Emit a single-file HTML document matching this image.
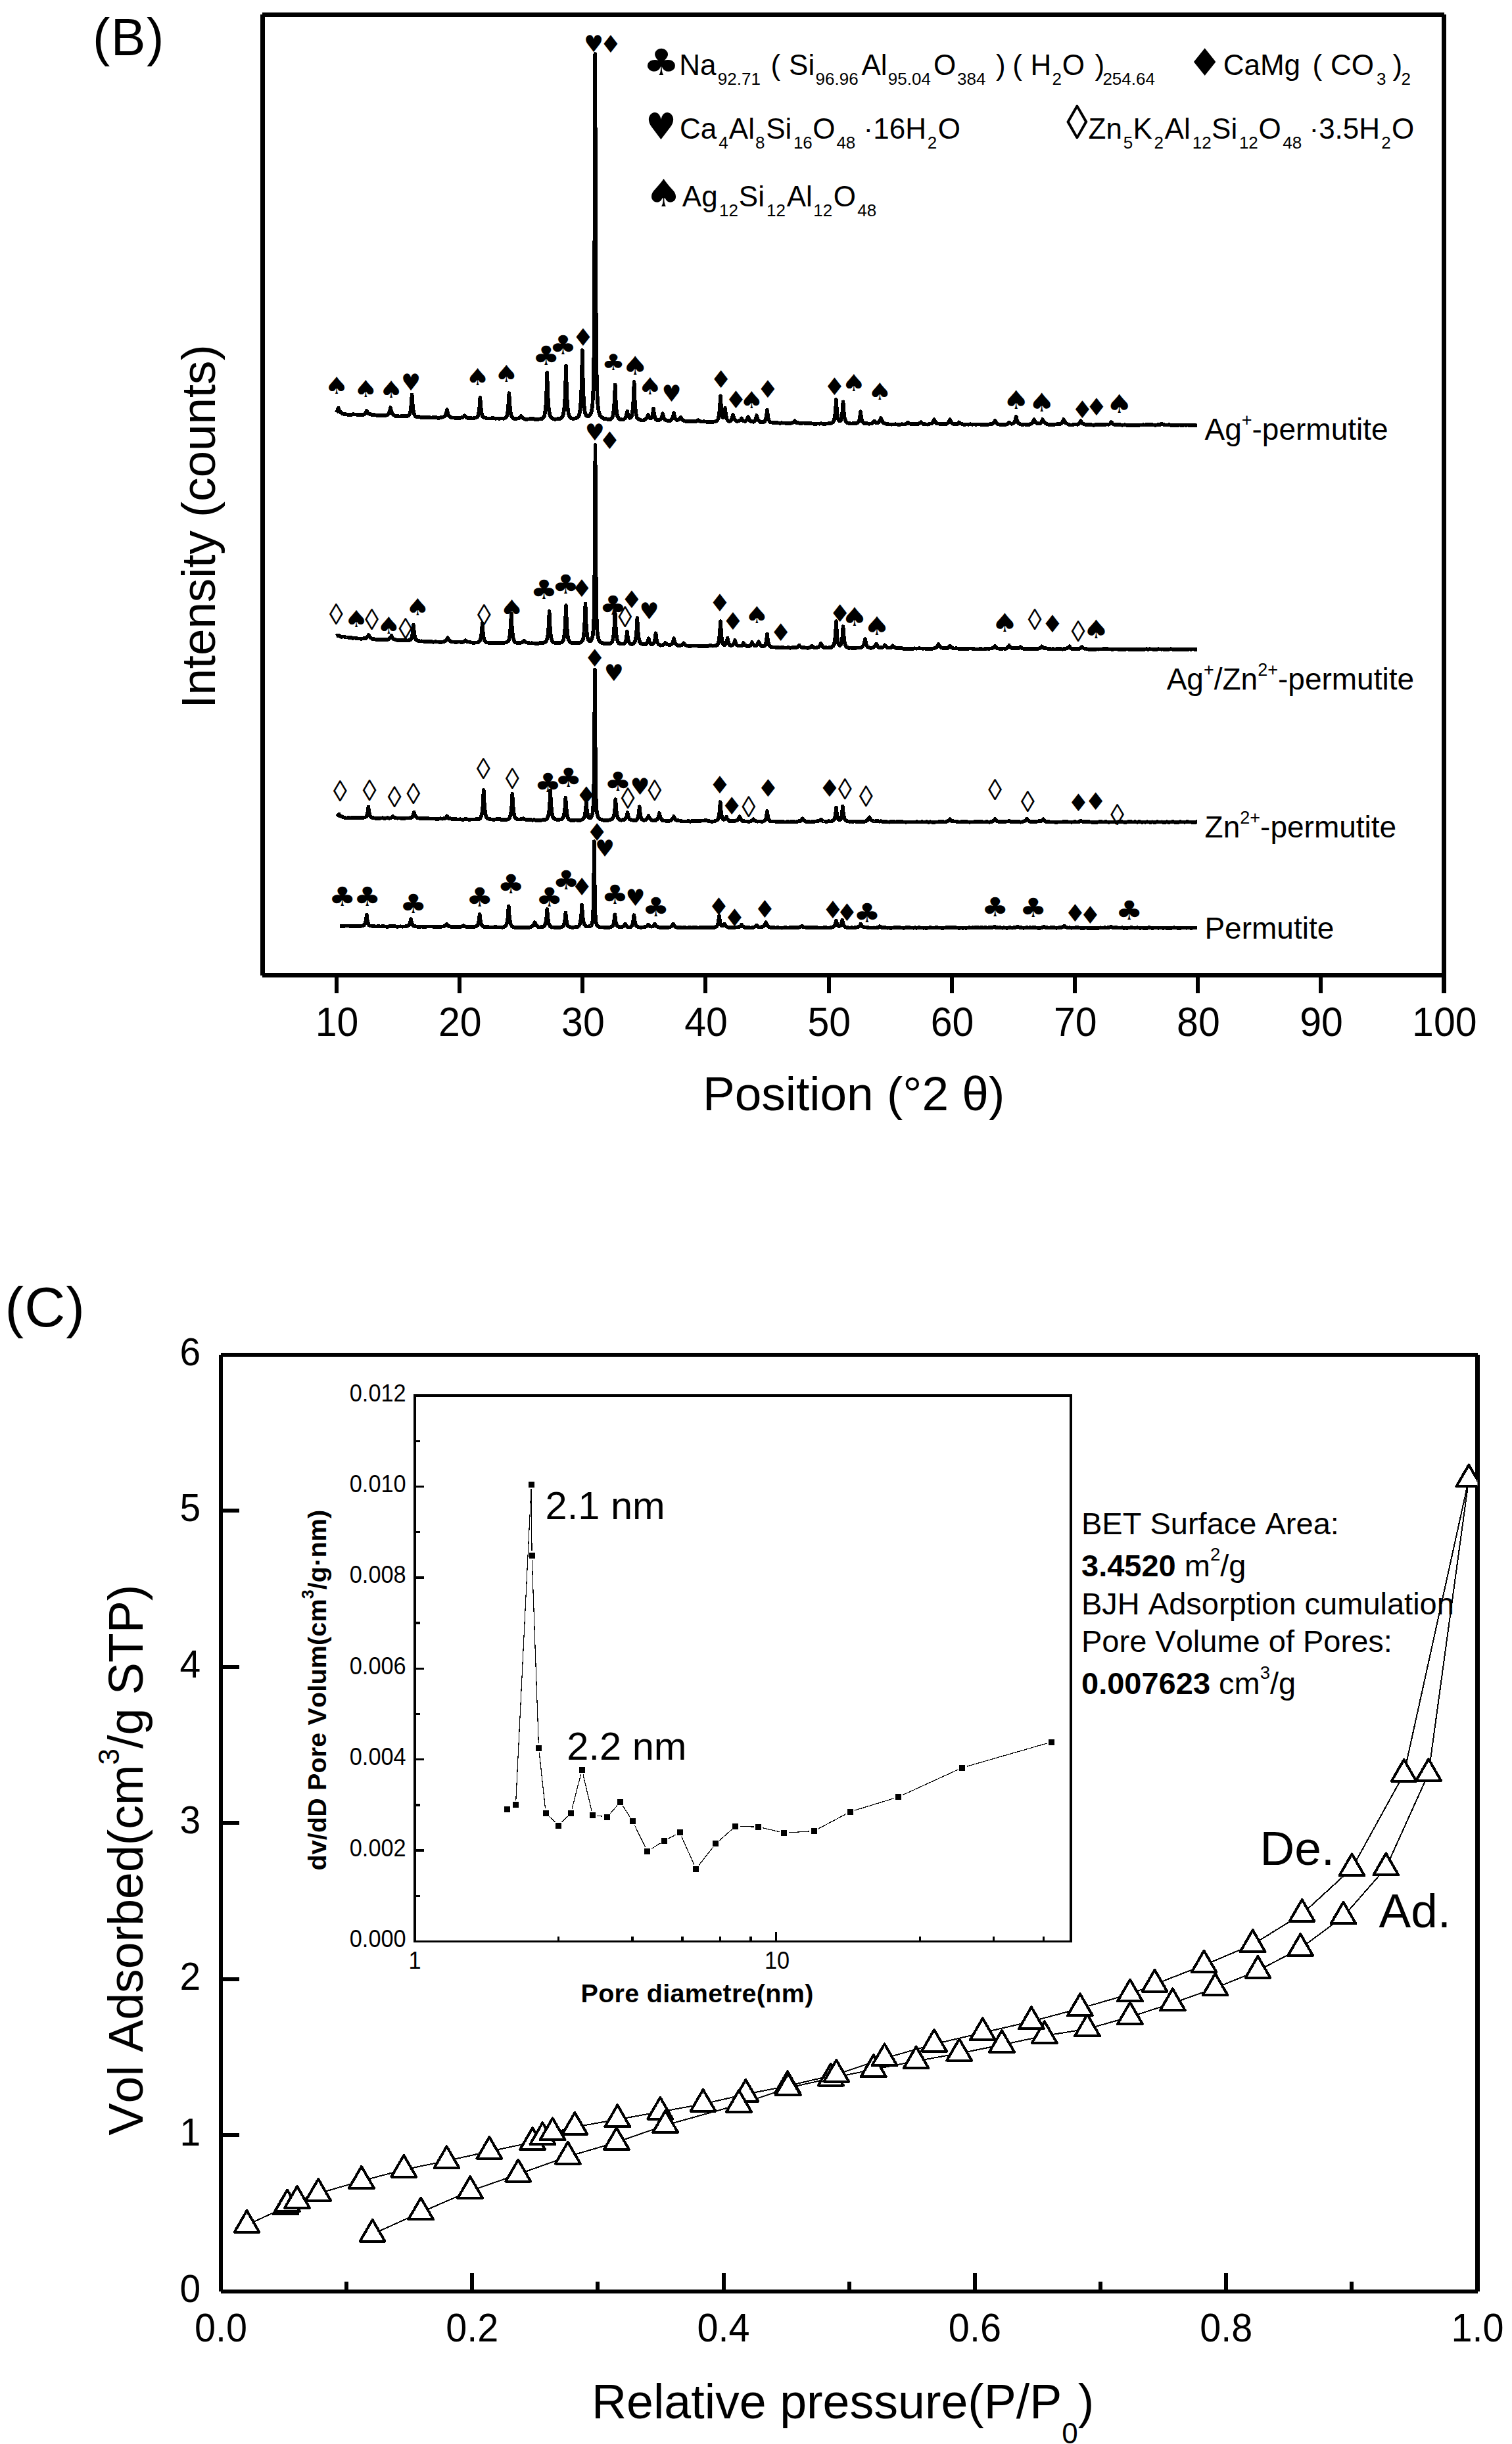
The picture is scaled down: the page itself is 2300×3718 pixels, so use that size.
<!DOCTYPE html>
<html lang="en"><head><meta charset="utf-8"><title>Figure B-C</title>
<style>html,body{margin:0;padding:0;background:#fff}svg{display:block}text{font-kerning:none;font-variant-ligatures:none}.s{font-family:"DejaVu Sans",sans-serif}</style></head>
<body>
<svg width="2300" height="3718" viewBox="0 0 2300 3718" font-family='"Liberation Sans", sans-serif' fill="#000" shape-rendering="crispEdges">
<rect width="2300" height="3718" fill="#fff"/>
<g id="panelB">
<text x="141" y="83.7" font-size="79" letter-spacing="1.5">(B)</text>
<rect x="396" y="22" width="7" height="1461.8"/><rect x="399" y="19" width="1798" height="6.9"/><rect x="2193" y="22" width="7" height="1489"/><rect x="399" y="1479.9" width="1798" height="7.1"/>
<rect x="508.7" y="1483" width="6" height="28" />
<text transform="translate(512.5 1576.3) scale(1 1.06)" font-size="59" text-anchor="middle">10</text>
<rect x="695.9" y="1483" width="6" height="28" />
<text transform="translate(699.7 1576.3) scale(1 1.06)" font-size="59" text-anchor="middle">20</text>
<rect x="883.1" y="1483" width="6" height="28" />
<text transform="translate(886.9 1576.3) scale(1 1.06)" font-size="59" text-anchor="middle">30</text>
<rect x="1070.3" y="1483" width="6" height="28" />
<text transform="translate(1074.1 1576.3) scale(1 1.06)" font-size="59" text-anchor="middle">40</text>
<rect x="1257.5" y="1483" width="6" height="28" />
<text transform="translate(1261.3 1576.3) scale(1 1.06)" font-size="59" text-anchor="middle">50</text>
<rect x="1444.7" y="1483" width="6" height="28" />
<text transform="translate(1448.5 1576.3) scale(1 1.06)" font-size="59" text-anchor="middle">60</text>
<rect x="1631.9" y="1483" width="6" height="28" />
<text transform="translate(1635.7 1576.3) scale(1 1.06)" font-size="59" text-anchor="middle">70</text>
<rect x="1819.1" y="1483" width="6" height="28" />
<text transform="translate(1822.9 1576.3) scale(1 1.06)" font-size="59" text-anchor="middle">80</text>
<rect x="2006.3" y="1483" width="6" height="28" />
<text transform="translate(2010.1 1576.3) scale(1 1.06)" font-size="59" text-anchor="middle">90</text>
<text transform="translate(2197.3 1576.3) scale(1 1.06)" font-size="59" text-anchor="middle">100</text>
<text x="1069" y="1689.3" font-size="73">Position (°2 θ)</text>
<text transform="translate(327.4 1077.8) rotate(-90)" font-size="72.7">Intensity (counts)</text>
<polyline points="511.5,627.2 513.2,624.6 514.8,620.7 516.2,624.7 517.8,626.9 519.5,628.4 520.8,629.2 524.0,630.3 526.5,630.3 529.5,630.9 534.0,631.0 536.5,630.3 541.5,630.4 544.0,631.2 546.5,631.2 549.0,630.6 551.5,631.3 553.5,630.7 555.0,629.7 556.5,627.8 557.8,625.1 559.0,627.5 560.5,629.0 562.2,629.9 564.0,630.3 566.5,631.2 569.0,631.1 574.0,632.0 576.5,631.8 579.0,632.1 581.5,632.0 584.0,632.3 588.8,631.5 589.8,631.0 590.8,630.0 591.8,628.4 592.5,626.5 593.2,623.8 594.0,619.9 595.0,624.8 595.8,627.2 596.5,628.9 598.0,630.8 601.0,632.6 601.5,632.9 604.0,633.3 609.0,633.4 611.5,633.2 616.5,633.2 619.0,632.8 620.5,632.7 621.5,632.3 622.8,630.6 623.8,627.8 624.5,624.5 625.8,614.0 626.6,600.4 627.8,617.2 628.5,623.2 629.2,627.1 630.2,630.4 631.2,632.3 632.2,633.3 634.0,634.1 636.5,634.0 639.0,634.5 641.5,635.2 644.0,634.8 646.5,635.3 651.5,634.7 654.0,635.3 656.5,635.5 659.0,635.1 661.5,635.0 664.0,635.2 666.5,635.9 669.0,635.6 671.5,634.8 674.0,634.5 675.2,633.9 676.2,633.2 677.8,631.1 679.0,627.6 680.0,623.2 681.0,628.3 681.5,630.0 682.2,631.7 683.5,633.2 685.0,634.4 686.5,635.2 689.0,635.6 691.5,635.6 694.0,636.2 696.5,635.6 699.0,636.0 701.5,635.3 704.0,634.8 705.5,633.7 706.6,632.3 708.0,633.8 711.5,636.1 714.0,636.4 716.5,636.1 719.0,636.7 721.5,635.8 724.5,635.3 725.8,634.6 726.8,633.3 727.5,631.3 728.2,628.2 729.5,618.4 730.4,604.9 731.2,617.4 732.2,626.2 733.5,631.9 734.0,633.3 734.8,634.2 735.8,634.8 741.5,636.6 744.0,636.4 751.5,636.3 754.0,636.8 756.5,636.4 759.0,636.8 763.5,636.5 766.5,636.8 768.5,635.8 770.0,634.3 771.0,632.3 771.8,629.6 772.5,625.3 773.2,618.1 774.4,598.2 775.2,613.9 776.5,626.1 777.2,630.0 778.0,632.4 779.2,634.6 780.5,636.0 781.5,636.7 784.0,637.1 788.0,636.4 789.8,636.0 790.8,635.5 791.8,634.6 792.6,633.2 793.5,634.7 794.2,635.6 795.2,636.1 796.5,636.4 799.0,637.8 801.5,637.8 809.0,636.9 811.5,637.0 814.0,638.1 816.5,637.6 819.0,638.0 821.5,637.2 824.0,637.2 825.2,636.5 826.2,635.7 827.0,634.6 827.8,633.0 828.8,629.3 829.8,622.6 830.5,614.0 831.2,600.2 832.3,566.9 833.0,591.6 834.0,612.7 835.0,623.7 836.2,630.3 837.0,632.5 838.0,634.3 839.5,635.8 841.2,636.9 843.2,637.6 844.5,637.8 849.0,637.0 851.5,637.2 853.0,636.2 854.5,634.9 855.2,634.0 856.0,632.7 857.2,628.7 858.2,622.2 859.0,613.6 859.8,599.8 861.0,556.8 861.8,586.5 862.5,605.1 863.5,619.7 864.8,628.7 865.5,631.6 866.2,633.4 867.2,634.8 868.8,636.1 871.5,637.1 877.0,636.0 878.2,635.5 879.2,634.7 880.2,633.1 881.0,631.3 882.0,626.9 883.0,618.5 883.8,607.6 884.5,590.2 885.2,562.9 885.8,533.1 886.5,569.3 887.2,594.2 888.0,609.9 889.0,621.9 889.5,625.4 890.2,628.8 891.0,630.9 892.0,632.4 893.2,633.2 894.8,633.3 895.5,633.0 897.0,632.0 898.0,630.9 899.0,628.9 900.0,624.9 900.8,620.1 901.5,612.4 902.5,592.1 903.2,557.5 903.8,510.5 904.2,418.8 905.3,82.2 906.5,452.4 907.0,527.2 907.8,578.9 908.8,607.1 909.5,617.1 910.5,624.5 911.8,629.4 912.5,631.4 913.5,633.2 914.8,634.5 916.5,635.5 919.0,637.3 921.5,637.1 924.0,637.9 926.0,638.2 928.5,637.9 929.5,637.4 930.5,636.4 931.2,635.2 932.0,633.3 932.8,630.2 933.2,627.1 934.2,617.0 935.0,604.1 935.7,585.4 936.5,606.3 937.5,621.4 938.5,629.6 939.2,633.0 940.0,634.9 941.2,636.5 942.5,637.5 943.8,638.1 946.5,638.5 949.0,637.9 950.8,636.3 952.2,633.6 953.2,630.5 954.2,625.8 955.2,631.0 956.5,634.3 957.2,635.3 958.0,635.8 958.8,635.7 959.8,635.0 960.8,633.1 961.5,630.2 962.2,625.3 962.8,620.4 963.8,604.5 964.6,581.0 965.2,600.2 966.0,614.7 966.8,623.8 967.8,630.9 968.8,634.6 969.2,635.6 970.0,636.6 970.8,637.2 973.2,638.6 976.5,639.5 978.5,639.3 980.0,638.9 981.2,638.3 982.2,637.6 983.2,636.5 984.5,634.5 985.9,631.0 987.0,633.9 988.2,635.7 989.5,636.4 990.2,636.3 990.8,635.9 991.8,634.3 992.8,630.8 993.5,626.0 994.0,621.3 994.8,628.0 995.8,633.2 997.2,637.1 998.0,638.2 999.0,639.1 1000.2,639.1 1001.5,638.7 1003.2,638.7 1004.0,638.5 1004.8,637.9 1005.8,636.4 1006.5,634.8 1007.2,632.5 1008.0,629.1 1009.5,634.8 1010.5,637.1 1011.5,638.5 1012.8,639.3 1014.8,639.9 1017.2,640.2 1019.0,640.2 1021.0,638.8 1022.0,637.6 1022.8,636.3 1024.0,632.8 1025.0,628.3 1026.0,633.0 1027.0,636.0 1028.2,638.1 1029.0,638.9 1029.5,639.0 1031.0,638.9 1032.8,638.1 1034.5,636.3 1035.5,634.6 1036.5,637.0 1038.2,639.0 1039.8,639.8 1044.0,641.1 1046.5,640.8 1049.0,641.3 1051.5,641.0 1055.8,641.4 1057.2,641.3 1059.0,641.0 1060.0,640.6 1061.2,639.8 1062.0,639.0 1062.8,639.6 1065.2,640.9 1066.5,641.3 1067.2,641.4 1071.5,641.3 1076.5,642.0 1081.5,641.9 1084.0,642.2 1088.5,641.0 1090.2,640.3 1091.5,639.2 1092.5,637.1 1093.5,633.2 1094.2,628.2 1095.0,620.3 1096.0,602.3 1097.2,622.9 1098.0,629.3 1099.0,633.8 1099.5,634.8 1099.8,635.1 1100.2,635.1 1100.8,634.6 1101.2,633.3 1102.2,628.0 1103.0,620.8 1104.0,630.3 1105.2,636.3 1106.0,638.1 1107.0,639.6 1108.0,640.4 1109.2,640.9 1110.2,640.8 1111.2,640.3 1112.5,638.8 1113.8,636.0 1115.0,630.9 1116.0,634.9 1117.2,637.8 1118.5,639.3 1120.0,640.5 1121.5,641.3 1124.0,640.1 1125.2,639.8 1126.2,639.2 1127.2,637.9 1128.0,636.4 1129.0,638.3 1130.5,639.9 1132.5,640.8 1134.0,640.8 1135.2,639.6 1136.2,638.2 1137.2,636.2 1138.0,634.3 1139.5,638.0 1140.5,639.5 1141.5,640.6 1142.8,641.1 1144.0,641.2 1145.5,641.7 1146.5,641.7 1148.0,640.2 1149.2,638.0 1150.2,635.2 1151.0,631.9 1151.8,635.1 1152.5,637.3 1153.5,639.3 1154.8,640.8 1155.8,641.6 1156.8,642.1 1160.0,642.2 1161.5,642.0 1162.5,641.5 1163.5,640.6 1164.2,639.4 1165.0,637.3 1166.0,632.5 1167.0,623.6 1168.2,634.2 1169.0,637.7 1169.8,639.7 1170.8,641.3 1171.8,642.1 1176.5,643.2 1181.5,643.0 1186.5,643.8 1189.0,643.3 1194.0,643.6 1196.5,643.9 1203.2,643.7 1204.8,643.3 1207.2,642.0 1208.2,641.2 1209.0,640.3 1210.2,641.9 1211.5,643.0 1212.8,643.2 1214.0,643.1 1216.5,644.2 1219.0,644.0 1221.5,643.4 1229.0,644.3 1231.5,643.8 1236.5,644.6 1241.5,645.0 1244.0,644.5 1246.5,644.7 1249.0,644.2 1251.5,644.7 1254.0,644.8 1258.5,644.6 1261.5,643.7 1264.0,643.9 1266.0,643.1 1267.2,642.1 1268.5,639.9 1269.2,637.5 1270.0,633.5 1270.8,627.2 1272.0,608.0 1272.8,621.2 1273.5,629.5 1274.5,635.8 1275.0,637.6 1275.8,639.3 1277.0,640.5 1277.8,640.6 1278.2,640.4 1278.8,640.0 1279.2,639.1 1280.0,636.7 1280.8,632.8 1281.5,626.3 1282.5,611.3 1283.8,628.6 1284.5,634.2 1285.5,638.5 1286.8,641.1 1287.5,642.1 1288.5,642.9 1290.2,643.7 1294.0,644.5 1296.5,644.3 1299.0,643.9 1301.5,644.6 1304.8,643.0 1305.8,642.2 1306.5,641.0 1307.5,637.5 1308.2,633.1 1309.0,626.2 1310.2,635.9 1311.0,639.0 1312.2,641.9 1313.0,642.9 1314.0,643.8 1319.0,644.2 1321.5,644.7 1324.0,644.6 1326.5,644.0 1328.2,642.7 1330.0,640.5 1331.2,642.2 1332.2,642.8 1335.0,643.2 1336.5,642.8 1338.2,640.3 1340.0,636.0 1341.5,640.0 1342.5,641.7 1343.5,642.9 1345.0,643.9 1349.2,645.3 1354.0,645.4 1356.5,645.7 1361.5,645.3 1364.0,645.4 1366.5,645.9 1369.0,645.9 1371.5,645.2 1374.0,645.6 1375.8,645.5 1376.5,645.5 1378.2,644.7 1380.2,643.5 1381.0,642.8 1381.8,643.5 1382.8,644.0 1386.5,645.2 1391.5,645.3 1394.0,644.6 1396.5,645.3 1399.2,643.8 1401.0,642.1 1402.5,643.7 1404.0,644.8 1405.8,645.2 1411.5,645.7 1414.0,644.8 1416.5,644.5 1417.5,643.9 1418.5,642.9 1419.8,641.2 1421.0,638.3 1421.5,639.8 1422.5,641.8 1423.5,643.2 1424.5,643.9 1429.0,644.9 1431.5,644.7 1435.8,645.2 1437.2,645.3 1439.5,644.9 1440.8,644.2 1442.0,643.3 1443.8,641.1 1445.0,638.2 1446.0,640.6 1447.8,643.3 1449.2,644.6 1451.5,645.6 1454.0,644.8 1456.5,644.9 1457.8,643.9 1459.0,642.4 1460.0,643.4 1461.5,644.5 1466.5,646.0 1469.0,645.6 1474.0,645.7 1476.5,645.2 1479.0,645.9 1481.5,645.4 1484.0,645.8 1489.0,645.4 1491.5,645.7 1496.5,645.7 1501.5,646.1 1504.0,645.5 1508.5,645.1 1509.5,644.8 1510.8,644.0 1511.8,643.0 1512.8,641.6 1513.6,639.8 1514.5,641.7 1515.5,643.3 1516.5,644.4 1517.5,644.9 1521.5,646.1 1524.0,645.7 1526.5,646.2 1528.5,646.2 1531.5,645.6 1533.2,644.3 1535.0,642.4 1537.0,644.0 1539.0,645.0 1540.2,644.5 1542.2,643.3 1543.2,642.2 1544.0,640.8 1545.0,637.4 1545.7,633.7 1546.5,637.8 1547.5,640.8 1548.5,642.6 1550.0,644.1 1552.0,645.2 1554.0,646.0 1559.0,645.6 1561.5,646.4 1564.0,645.9 1566.5,645.8 1568.0,644.9 1570.0,643.4 1571.0,642.4 1572.0,640.7 1573.0,638.3 1574.0,640.8 1575.5,642.7 1577.8,644.0 1580.5,644.5 1581.5,644.4 1582.2,644.0 1583.8,642.7 1585.0,640.6 1586.0,638.0 1586.8,640.0 1587.8,641.7 1590.8,644.3 1594.0,645.7 1596.5,645.9 1599.0,646.3 1609.0,645.1 1611.5,645.2 1613.2,644.6 1614.8,643.7 1616.0,642.4 1617.0,640.6 1618.0,637.9 1619.8,641.7 1621.5,643.7 1622.8,644.5 1626.5,646.2 1629.0,646.5 1631.5,646.5 1634.0,645.6 1636.5,645.4 1639.0,645.8 1640.5,644.8 1642.2,643.2 1643.2,641.7 1644.0,640.2 1644.8,641.7 1645.8,643.1 1647.5,644.6 1649.0,645.4 1651.5,645.9 1654.0,645.9 1656.5,646.2 1659.0,645.8 1661.5,646.6 1663.5,646.8 1664.0,646.8 1666.5,646.0 1671.5,646.3 1674.0,645.9 1679.0,645.7 1681.5,646.0 1684.0,645.4 1686.5,645.8 1687.8,645.2 1688.8,644.5 1690.5,642.2 1692.2,644.4 1693.2,645.2 1694.2,645.7 1696.0,645.9 1699.0,645.9 1701.5,646.2 1704.0,646.2 1706.5,646.7 1709.0,646.6 1711.5,646.2 1714.0,646.9 1721.5,647.0 1724.0,646.6 1726.5,647.1 1731.5,646.7 1736.5,646.6 1739.0,646.3 1741.5,646.6 1744.0,645.9 1749.0,646.4 1751.5,646.0 1756.5,646.7 1759.0,646.7 1761.5,646.2 1764.0,646.4 1765.5,645.5 1766.6,644.5 1768.0,645.3 1771.5,646.4 1776.5,646.4 1779.0,646.3 1781.5,646.9 1784.0,646.7 1791.5,647.3 1794.0,646.4 1796.5,646.9 1799.0,647.0 1801.5,646.6 1804.0,646.9 1806.5,646.6 1811.5,647.0 1814.0,646.7 1816.5,646.9 1819.0,647.5 1821.0,647.2" fill="none" stroke="#000" stroke-width="5.7" stroke-linejoin="round" stroke-linecap="butt"/>
<polyline points="511.5,967.6 513.5,966.6 516.5,967.3 519.0,968.9 521.5,968.5 524.0,968.7 526.5,969.5 529.0,969.5 531.5,970.3 534.0,969.9 536.5,970.9 539.0,970.5 544.0,971.5 546.5,971.5 549.0,971.8 551.5,971.6 554.0,970.8 556.5,971.0 557.8,970.2 558.8,969.1 559.8,967.7 560.6,965.9 561.8,968.0 562.8,969.2 564.8,970.8 566.5,971.9 569.0,972.2 571.5,972.8 574.0,972.9 576.5,973.2 579.0,972.9 584.0,973.0 586.5,972.8 589.0,973.3 592.2,971.6 593.2,970.9 594.5,969.1 595.5,966.8 596.8,969.7 598.2,971.6 599.5,972.4 601.5,972.8 604.0,974.0 606.5,974.1 609.0,973.8 611.5,973.7 614.0,974.3 616.5,973.8 619.0,974.6 622.5,973.9 623.8,973.4 625.0,972.3 626.0,970.5 627.0,967.1 627.8,962.7 628.9,950.4 630.0,962.7 630.8,967.4 631.5,970.5 632.2,972.1 633.0,973.1 634.8,974.3 636.2,974.8 639.0,975.5 641.5,975.3 644.0,975.7 649.0,975.8 651.5,976.3 654.0,976.3 656.5,976.0 659.0,976.9 661.5,976.3 666.5,976.4 669.0,977.0 671.5,977.0 675.5,976.0 677.2,975.2 679.8,972.5 681.0,970.3 681.5,971.7 682.8,973.5 685.0,975.4 686.8,976.3 693.5,976.8 699.0,976.5 701.5,976.9 703.8,976.8 706.2,975.9 708.0,974.3 711.5,976.6 714.0,976.6 719.0,977.8 721.5,977.9 724.0,977.4 726.5,977.5 727.2,977.2 728.2,976.6 729.2,975.7 730.5,973.6 731.5,970.1 732.2,965.6 733.0,958.5 733.7,948.1 734.5,959.8 735.5,968.3 736.0,971.0 736.8,973.8 737.5,975.3 738.2,976.2 739.8,977.2 744.0,978.1 746.5,978.1 749.0,977.8 751.5,978.1 756.5,977.9 759.0,978.4 761.5,977.6 764.0,978.1 766.5,978.1 770.0,977.1 772.2,975.9 773.0,975.2 773.8,974.0 774.5,971.9 775.5,966.6 776.2,959.8 777.0,949.1 777.7,933.5 778.8,954.6 780.0,967.0 780.8,970.9 781.8,973.9 782.8,975.9 784.0,977.4 785.5,977.7 790.5,978.0 792.2,977.8 795.5,976.6 796.5,975.7 797.0,974.9 798.2,976.0 801.0,977.5 806.5,978.5 809.0,978.3 815.0,978.8 819.0,978.8 821.5,977.9 826.5,978.3 829.8,976.4 830.8,975.4 831.8,973.5 832.8,969.9 833.5,965.1 834.2,957.3 835.0,944.9 835.6,930.0 836.2,945.9 837.2,960.9 838.2,969.1 839.2,973.5 840.0,975.2 840.8,976.3 841.5,977.0 842.5,977.5 845.5,978.0 849.5,978.1 851.5,977.9 853.0,977.5 854.8,976.8 856.0,975.7 857.0,973.5 858.0,969.3 859.0,961.4 859.8,951.7 861.0,921.2 861.8,942.5 862.8,959.1 863.8,968.0 864.2,970.7 865.0,973.3 865.8,974.8 867.0,976.3 868.2,977.3 869.5,977.9 871.5,978.3 874.0,977.9 876.5,978.4 879.0,977.9 881.5,978.3 884.8,976.2 885.8,975.0 886.8,972.7 887.8,967.9 888.5,961.5 889.2,951.1 890.5,918.5 891.5,946.1 892.2,958.0 893.0,965.4 894.0,970.8 894.5,972.5 895.2,974.1 896.5,975.4 897.2,975.4 898.2,975.0 899.5,973.6 900.2,972.3 901.0,970.0 901.8,966.4 902.8,956.2 903.5,938.3 904.0,913.1 904.5,861.9 905.5,677.2 906.5,862.0 907.0,913.0 907.5,938.2 908.2,956.1 908.8,962.3 909.5,967.9 910.2,971.4 911.5,974.6 913.0,976.7 914.0,977.5 914.5,977.7 916.5,978.1 919.0,979.2 921.2,979.4 926.5,978.8 928.2,978.8 929.0,978.7 929.8,978.1 930.8,976.9 931.2,976.0 932.0,973.9 932.8,970.5 933.8,962.6 934.8,948.0 935.5,929.4 936.8,956.4 937.5,965.1 938.5,971.7 939.8,975.9 940.5,977.3 941.5,978.6 942.8,979.0 946.2,979.6 948.0,979.5 949.5,979.0 950.5,978.1 951.5,976.4 952.2,973.8 953.0,969.7 954.0,960.7 954.8,967.9 955.5,972.4 956.5,976.0 957.5,978.0 959.0,979.6 960.2,979.9 961.5,979.9 963.5,979.1 964.5,978.3 965.2,977.3 966.0,975.7 966.5,974.1 967.8,966.0 968.8,953.4 969.4,940.0 970.2,956.5 971.2,967.6 971.8,971.1 972.5,974.5 973.2,976.6 974.5,978.5 975.8,979.5 977.0,980.0 981.2,980.1 982.2,980.0 983.2,979.5 984.0,978.9 985.0,976.9 985.8,974.7 986.6,971.2 987.8,975.7 988.5,977.5 989.2,978.7 990.2,979.8 991.5,980.4 992.5,980.2 993.2,979.8 994.2,978.7 994.8,977.9 995.8,975.1 996.8,969.8 997.5,963.2 998.5,971.7 999.0,974.4 999.8,976.9 1000.8,978.8 1002.2,980.3 1004.0,981.6 1004.5,981.7 1007.5,981.5 1009.5,980.8 1011.0,979.5 1012.0,978.0 1013.5,979.4 1016.0,980.7 1018.5,981.0 1019.8,980.9 1020.8,980.6 1022.2,979.4 1023.2,977.8 1024.2,974.9 1025.0,971.3 1026.2,976.6 1027.5,979.3 1028.2,980.2 1029.8,981.3 1031.0,981.9 1032.2,982.2 1034.0,982.3 1037.8,980.9 1039.0,980.0 1040.0,978.4 1041.2,980.3 1042.5,981.4 1044.8,982.3 1046.5,982.8 1049.0,982.8 1054.0,982.5 1061.5,982.6 1064.0,983.5 1066.5,982.9 1069.0,982.7 1071.5,983.0 1074.0,982.8 1076.5,982.9 1078.5,982.3 1080.0,981.5 1082.2,982.3 1084.0,982.7 1086.8,982.5 1090.2,981.8 1091.5,980.8 1092.2,979.4 1093.0,977.1 1093.8,973.5 1095.0,962.5 1096.0,945.1 1097.0,962.7 1098.0,972.2 1098.8,976.3 1099.5,978.8 1100.5,980.5 1101.5,981.2 1102.2,981.1 1103.0,980.6 1103.8,979.7 1104.5,978.4 1105.8,974.7 1106.6,970.6 1107.8,976.3 1109.0,979.9 1110.2,981.3 1111.5,981.9 1112.5,981.9 1113.5,981.7 1114.8,981.0 1115.5,980.2 1117.0,977.4 1118.0,973.9 1119.0,977.6 1120.2,980.3 1121.5,981.8 1123.2,982.5 1125.5,982.6 1127.8,982.2 1128.8,981.8 1130.0,980.2 1131.0,978.0 1131.5,979.2 1132.5,980.7 1134.8,982.4 1136.8,983.3 1139.0,983.4 1140.5,982.6 1141.8,981.4 1143.0,979.4 1144.0,976.9 1145.2,979.6 1146.8,981.5 1148.2,982.2 1150.0,982.2 1151.2,981.7 1152.0,980.8 1153.0,979.0 1154.0,976.3 1155.5,979.9 1156.8,981.6 1157.8,982.5 1159.2,983.2 1162.2,982.7 1163.2,982.2 1164.0,981.4 1165.0,978.8 1166.0,973.8 1167.0,964.5 1168.0,973.9 1169.2,979.8 1170.0,981.6 1171.0,982.9 1172.2,983.8 1173.8,984.3 1181.5,984.8 1186.5,985.5 1189.0,985.0 1194.2,985.5 1196.5,985.5 1199.0,984.9 1201.5,985.8 1206.5,985.1 1211.2,985.0 1212.2,984.8 1214.0,984.0 1215.7,981.7 1217.0,983.2 1218.2,984.1 1219.8,984.9 1221.5,985.4 1224.0,985.3 1229.0,985.9 1233.2,984.5 1234.0,984.1 1235.0,982.9 1237.5,984.6 1239.0,985.4 1241.5,985.5 1245.0,984.1 1246.2,983.4 1247.8,981.4 1248.8,979.1 1249.8,981.3 1250.8,982.8 1252.0,984.1 1253.5,984.9 1254.2,985.1 1256.5,985.2 1259.0,985.5 1261.5,985.1 1264.0,985.1 1265.8,984.1 1267.8,982.3 1268.8,980.1 1269.5,977.0 1270.2,971.9 1271.0,963.7 1272.0,945.2 1272.8,959.8 1273.5,969.0 1274.5,976.1 1275.0,978.3 1275.8,980.4 1276.8,981.8 1277.2,981.9 1278.0,981.7 1278.5,981.3 1279.2,980.0 1280.0,977.9 1280.8,974.2 1281.5,968.0 1282.5,953.1 1283.8,970.1 1284.5,975.8 1285.2,979.5 1286.0,981.8 1287.0,983.5 1288.2,984.5 1291.5,985.9 1294.0,985.5 1296.5,986.2 1299.0,986.2 1301.5,985.7 1309.0,985.5 1310.2,984.9 1312.2,983.3 1313.8,980.8 1315.0,977.1 1316.0,972.0 1317.2,978.5 1318.0,981.0 1319.0,983.1 1320.2,984.3 1321.5,984.7 1324.0,986.0 1327.2,985.4 1329.8,984.1 1330.8,983.2 1331.8,982.0 1333.0,979.6 1334.0,981.8 1335.2,983.6 1336.5,984.7 1338.0,985.2 1340.2,985.2 1343.2,984.6 1344.5,983.7 1346.0,981.4 1347.0,982.9 1348.2,984.2 1349.2,984.8 1350.8,985.3 1353.2,985.6 1354.8,985.2 1356.5,984.2 1358.0,982.4 1360.0,984.2 1364.0,986.2 1366.5,985.6 1371.5,986.0 1374.0,986.9 1376.5,986.7 1379.0,987.2 1384.0,986.7 1389.0,986.9 1391.5,986.3 1394.0,986.7 1399.0,986.2 1404.0,986.8 1406.5,986.4 1409.0,987.2 1411.5,987.2 1414.0,986.8 1416.5,987.1 1418.0,986.9 1421.5,986.2 1425.0,984.2 1426.5,982.6 1427.6,980.1 1428.8,982.6 1429.8,983.9 1431.0,984.8 1433.5,985.7 1436.5,985.7 1439.0,986.1 1441.5,985.9 1443.2,984.7 1445.0,982.8 1446.0,983.9 1447.8,985.2 1449.0,985.9 1450.5,986.4 1451.5,986.6 1454.0,986.2 1456.5,986.5 1459.0,987.0 1461.5,986.5 1464.0,987.4 1466.5,987.0 1469.0,987.4 1474.5,986.5 1476.5,986.5 1481.5,987.0 1484.0,987.6 1486.5,987.6 1491.5,987.1 1494.0,987.4 1496.5,987.4 1501.5,986.6 1504.0,986.9 1508.2,986.3 1511.0,985.5 1512.2,984.6 1513.6,982.9 1515.0,984.8 1516.5,986.3 1519.0,986.4 1521.5,987.3 1524.0,987.2 1526.5,986.5 1529.0,987.2 1531.0,986.4 1532.2,985.6 1533.5,984.3 1535.0,981.9 1536.0,983.8 1536.8,984.7 1538.0,985.5 1539.5,985.9 1549.0,986.3 1550.8,985.4 1552.0,984.0 1553.2,985.1 1555.5,986.4 1556.5,986.7 1566.5,987.1 1569.0,986.8 1571.5,987.3 1574.0,986.8 1576.5,987.4 1580.5,986.4 1583.0,985.3 1584.0,984.4 1584.7,983.4 1586.2,984.9 1588.5,985.9 1594.0,986.8 1596.5,986.9 1599.0,987.5 1601.5,987.2 1604.0,987.6 1609.0,987.1 1614.0,987.3 1616.5,987.7 1619.0,986.9 1621.5,986.7 1623.5,986.1 1625.2,985.2 1627.0,983.4 1628.0,985.0 1629.0,986.2 1630.2,986.9 1631.5,987.3 1634.0,987.0 1636.5,986.9 1639.0,987.2 1641.5,987.0 1644.8,985.1 1646.0,984.1 1647.2,985.5 1649.0,986.7 1651.5,986.6 1654.0,987.6 1659.0,988.0 1661.5,987.8 1666.5,987.8 1669.0,987.4 1671.5,987.7 1674.0,987.4 1676.5,987.4 1679.0,987.0 1684.0,987.0 1686.5,987.6 1689.0,987.4 1691.5,987.8 1699.0,987.4 1701.5,987.9 1706.5,988.0 1711.5,988.0 1714.0,987.4 1716.5,987.7 1719.0,988.2 1724.0,987.6 1729.0,988.4 1731.5,987.7 1734.0,987.7 1739.0,988.3 1741.5,987.6 1744.0,987.3 1746.5,987.9 1749.0,987.3 1756.5,988.0 1759.0,988.0 1761.5,987.3 1762.5,987.3 1766.5,987.7 1769.0,987.6 1774.0,988.3 1776.5,988.3 1779.0,987.5 1781.5,987.2 1784.0,987.9 1786.5,988.2 1791.5,987.8 1794.0,988.2 1796.5,988.2 1799.0,988.3 1801.5,988.0 1804.0,988.4 1806.5,988.2 1809.0,987.6 1811.5,987.8 1814.0,987.4 1816.5,987.6 1819.0,988.1 1821.0,987.9" fill="none" stroke="#000" stroke-width="5.7" stroke-linejoin="round" stroke-linecap="butt"/>
<polyline points="512.5,1241.9 514.2,1240.5 515.8,1238.7 517.5,1240.9 518.5,1241.6 522.5,1243.5 525.0,1244.2 526.2,1244.4 527.5,1244.5 530.0,1244.0 532.5,1244.4 537.5,1244.0 540.0,1244.4 542.5,1244.0 545.0,1243.9 547.5,1244.3 554.0,1243.7 555.5,1243.3 556.5,1242.8 557.2,1242.1 558.5,1239.2 559.5,1234.5 560.4,1227.4 561.0,1232.7 561.8,1237.1 562.5,1240.0 563.2,1241.7 564.0,1242.8 565.0,1243.6 570.5,1244.8 572.5,1245.1 575.0,1244.8 577.5,1245.0 580.0,1244.4 582.5,1244.3 585.0,1245.1 587.5,1244.4 590.0,1244.3 592.5,1244.8 595.0,1244.1 596.2,1243.2 597.5,1241.9 598.8,1243.1 600.0,1243.8 603.0,1244.5 605.0,1244.7 607.5,1244.4 610.0,1244.9 612.5,1244.7 615.0,1244.8 622.5,1244.3 625.0,1244.6 626.8,1243.4 628.0,1241.6 629.0,1239.1 629.9,1235.6 631.2,1240.1 632.0,1241.5 633.0,1242.8 634.0,1243.6 635.0,1244.1 638.5,1244.9 640.0,1245.1 642.5,1244.8 645.0,1244.9 647.5,1244.8 650.0,1244.9 652.5,1245.4 660.0,1245.4 665.0,1246.0 670.0,1245.3 672.5,1245.7 676.2,1245.1 677.5,1244.8 678.8,1243.4 680.0,1241.4 681.2,1243.6 682.5,1245.0 683.5,1245.3 685.0,1245.2 687.5,1246.0 692.5,1245.9 695.0,1246.6 697.5,1246.6 700.0,1246.3 702.5,1246.7 705.0,1246.8 707.5,1246.2 710.0,1246.2 712.5,1246.7 715.0,1246.8 717.5,1246.5 722.5,1246.4 725.0,1246.1 727.5,1246.4 728.8,1246.1 729.8,1245.6 731.0,1244.1 732.0,1242.0 733.0,1238.1 733.8,1233.0 734.5,1225.1 735.7,1202.1 736.8,1223.2 738.0,1235.8 738.8,1239.8 739.5,1242.4 740.5,1244.2 741.8,1245.2 743.8,1245.8 750.0,1246.8 752.5,1246.7 755.0,1246.1 758.0,1246.3 760.0,1245.8 762.5,1247.0 764.5,1247.3 767.5,1246.8 770.0,1246.9 771.5,1246.7 773.0,1246.2 774.2,1245.3 775.2,1243.9 776.2,1241.4 777.5,1234.8 778.5,1224.4 779.4,1207.7 780.2,1223.5 781.5,1236.0 782.2,1239.9 783.0,1242.4 783.8,1244.0 784.8,1245.3 786.2,1246.1 790.0,1246.7 793.8,1245.9 796.0,1245.1 798.2,1246.3 800.5,1247.0 802.5,1247.2 805.0,1246.9 807.5,1247.0 810.0,1247.8 812.5,1247.0 815.0,1248.0 820.0,1247.8 822.5,1248.0 825.0,1247.5 827.5,1246.5 830.0,1247.0 831.0,1246.4 832.0,1245.4 833.0,1243.9 833.8,1242.2 834.8,1237.9 835.8,1229.4 836.5,1218.4 837.2,1202.3 838.0,1219.9 839.2,1234.5 840.0,1239.0 840.8,1241.9 841.8,1244.0 843.0,1245.3 847.5,1247.2 850.0,1247.3 854.5,1245.9 855.8,1245.0 856.8,1243.6 858.0,1239.8 859.0,1233.3 859.8,1225.0 860.4,1213.7 861.2,1227.7 862.5,1238.8 863.8,1243.9 864.8,1245.8 865.8,1246.9 867.2,1247.7 868.5,1248.0 872.5,1248.3 875.0,1247.6 877.0,1247.6 880.0,1248.4 881.8,1248.1 884.2,1247.4 885.8,1246.7 887.0,1245.8 888.0,1244.6 888.8,1243.1 890.0,1238.4 891.0,1230.9 891.8,1220.6 892.8,1232.1 894.0,1239.9 894.8,1242.3 895.8,1243.9 896.8,1244.5 897.5,1244.5 898.0,1244.3 899.2,1243.1 900.2,1241.3 901.0,1238.9 901.5,1236.2 902.2,1229.3 903.0,1213.7 903.8,1170.3 904.8,1018.4 906.0,1183.5 906.5,1210.6 907.0,1224.2 907.5,1231.6 908.0,1236.2 908.8,1240.1 909.5,1242.4 910.8,1244.6 912.5,1246.2 915.0,1246.8 917.5,1247.8 922.5,1247.7 925.0,1247.8 928.2,1247.1 931.0,1246.0 932.0,1245.1 932.5,1244.3 933.8,1241.0 934.8,1235.5 935.5,1228.4 936.3,1216.2 937.5,1232.7 938.2,1238.3 939.0,1241.8 939.8,1243.9 941.0,1245.9 943.0,1247.2 945.0,1248.0 947.5,1247.1 949.8,1246.9 951.2,1245.7 952.2,1244.2 953.0,1242.4 953.8,1239.8 954.5,1236.1 956.0,1242.6 957.0,1245.0 958.0,1246.4 959.2,1247.1 961.0,1247.6 965.0,1247.9 966.8,1248.2 967.5,1248.2 967.8,1248.0 968.8,1247.0 969.5,1245.8 970.8,1242.3 971.8,1236.7 972.7,1227.3 973.8,1237.6 975.0,1243.9 975.8,1245.6 976.5,1246.6 978.0,1247.5 979.0,1247.8 980.0,1247.9 981.0,1247.6 983.5,1246.3 984.2,1245.8 985.2,1244.5 986.6,1241.1 987.8,1243.7 988.8,1245.3 989.8,1246.5 991.2,1247.7 992.8,1248.4 997.5,1248.2 999.2,1246.9 1001.0,1244.4 1002.2,1240.8 1003.0,1236.9 1003.8,1240.5 1004.5,1242.9 1005.8,1245.7 1007.0,1247.4 1007.5,1247.9 1008.2,1248.2 1012.5,1248.7 1015.0,1249.4 1017.5,1248.8 1020.0,1248.6 1020.8,1248.1 1021.8,1247.2 1023.5,1245.2 1025.0,1242.0 1025.8,1244.0 1026.8,1245.9 1027.5,1246.9 1028.5,1247.7 1030.0,1248.2 1032.5,1248.3 1037.5,1249.4 1045.0,1249.4 1047.5,1249.1 1050.0,1249.8 1052.5,1249.2 1055.0,1249.2 1057.5,1248.9 1064.8,1249.1 1067.5,1248.6 1071.5,1248.3 1072.5,1248.1 1073.0,1247.7 1079.8,1249.4 1082.5,1249.8 1085.0,1249.7 1087.8,1249.0 1091.0,1247.5 1092.0,1246.5 1092.8,1244.9 1093.8,1240.9 1094.5,1235.6 1095.7,1220.2 1096.2,1228.6 1097.0,1236.3 1098.0,1242.2 1099.0,1245.1 1099.5,1245.9 1100.2,1246.6 1101.0,1246.8 1101.8,1246.7 1102.8,1246.1 1103.5,1245.3 1105.0,1242.6 1106.2,1245.5 1107.5,1247.3 1109.5,1248.9 1110.0,1249.1 1111.0,1249.2 1115.5,1249.3 1119.0,1248.7 1120.5,1248.2 1121.8,1247.4 1122.8,1246.3 1123.8,1244.7 1124.8,1242.2 1125.8,1244.5 1126.8,1246.2 1128.2,1247.9 1130.0,1249.2 1137.5,1249.7 1140.0,1250.0 1144.2,1248.2 1145.2,1247.3 1146.0,1246.3 1147.8,1248.3 1148.8,1248.9 1150.0,1249.3 1152.5,1249.7 1155.0,1249.4 1160.0,1250.0 1161.5,1249.4 1163.2,1248.3 1164.0,1247.5 1164.8,1246.1 1166.0,1241.4 1167.0,1233.9 1168.0,1241.6 1169.0,1245.8 1169.5,1247.1 1170.2,1248.3 1171.0,1248.9 1172.0,1249.3 1174.0,1249.5 1177.5,1249.4 1182.5,1250.0 1185.0,1249.8 1187.5,1250.3 1192.5,1250.3 1195.0,1250.5 1197.5,1250.1 1200.0,1250.4 1207.5,1249.9 1210.0,1250.4 1212.5,1250.3 1215.0,1249.1 1217.5,1249.1 1219.0,1247.7 1220.7,1245.3 1221.8,1247.0 1223.0,1248.3 1227.5,1250.5 1230.0,1250.2 1232.5,1250.4 1240.0,1249.7 1243.8,1249.1 1247.0,1248.3 1247.8,1247.8 1248.8,1246.6 1250.5,1248.7 1252.5,1249.5 1255.0,1249.5 1257.5,1250.2 1260.0,1249.2 1262.5,1249.5 1264.0,1249.4 1266.2,1248.9 1268.0,1247.8 1268.8,1247.0 1269.5,1245.6 1270.2,1243.0 1271.0,1238.5 1272.0,1228.4 1273.0,1238.2 1273.5,1241.1 1274.2,1244.1 1275.2,1246.2 1276.2,1247.2 1277.2,1247.3 1278.0,1247.0 1278.5,1246.5 1279.2,1245.2 1279.8,1243.7 1280.5,1240.1 1281.2,1234.2 1281.9,1226.4 1282.5,1233.5 1283.2,1239.5 1284.0,1243.3 1285.0,1246.1 1286.0,1247.7 1287.2,1248.6 1289.0,1249.2 1292.5,1249.8 1295.0,1249.6 1297.5,1250.0 1300.0,1249.5 1302.5,1250.0 1305.0,1250.0 1307.5,1249.8 1310.0,1250.3 1312.2,1250.3 1314.8,1249.9 1317.2,1249.1 1319.2,1247.9 1321.2,1245.7 1322.5,1243.3 1323.8,1245.8 1325.2,1247.5 1326.8,1248.5 1329.5,1249.5 1330.8,1249.5 1335.0,1248.7 1337.5,1249.7 1340.0,1249.3 1342.5,1250.1 1345.0,1249.8 1352.5,1250.7 1355.0,1250.0 1357.5,1250.3 1360.0,1249.9 1362.5,1250.5 1365.0,1249.8 1367.5,1250.3 1370.0,1249.7 1372.5,1250.2 1377.5,1250.7 1385.0,1250.5 1387.5,1250.6 1394.5,1250.3 1400.0,1250.5 1402.5,1250.2 1405.0,1250.5 1410.0,1250.3 1412.5,1250.8 1415.0,1250.3 1417.5,1250.7 1421.5,1250.7 1425.0,1250.6 1430.5,1249.9 1432.5,1249.9 1437.5,1250.6 1439.5,1250.1 1441.8,1249.0 1443.8,1247.6 1445.0,1246.1 1446.2,1247.8 1447.5,1248.9 1455.0,1249.8 1457.5,1250.4 1460.0,1250.6 1462.5,1250.0 1465.0,1250.4 1467.5,1249.7 1475.0,1250.8 1477.5,1250.5 1480.0,1250.6 1482.5,1250.2 1485.0,1250.1 1487.5,1250.3 1490.0,1249.8 1497.5,1250.6 1500.0,1250.2 1502.5,1250.2 1505.0,1250.8 1508.5,1249.9 1511.2,1248.8 1512.5,1247.8 1513.6,1246.2 1514.5,1247.5 1515.8,1248.7 1517.2,1249.5 1518.5,1249.8 1522.5,1250.1 1525.0,1249.6 1527.5,1250.0 1530.0,1249.8 1533.2,1249.3 1535.0,1248.6 1537.5,1250.2 1540.0,1249.9 1542.5,1249.9 1545.0,1250.1 1550.0,1249.8 1552.5,1250.7 1555.0,1250.2 1559.8,1248.6 1560.8,1247.7 1562.0,1245.9 1563.8,1247.9 1565.8,1249.2 1567.5,1250.0 1570.0,1250.2 1572.5,1249.8 1575.0,1250.1 1580.0,1249.2 1582.0,1249.2 1583.8,1248.8 1585.2,1248.1 1586.2,1247.1 1587.0,1246.0 1588.0,1247.5 1589.0,1248.5 1590.8,1249.7 1592.5,1250.5 1595.0,1250.1 1597.5,1250.4 1607.5,1250.8 1610.0,1250.4 1615.0,1250.6 1617.5,1250.0 1622.5,1250.3 1627.5,1250.4 1630.0,1250.8 1635.0,1250.1 1637.5,1250.6 1639.2,1250.6 1640.0,1250.6 1644.0,1248.6 1645.0,1249.4 1646.2,1249.7 1650.0,1250.0 1652.5,1249.9 1655.0,1250.2 1657.5,1250.3 1660.0,1250.7 1664.5,1250.9 1667.5,1251.0 1672.5,1250.1 1675.0,1250.0 1677.5,1250.6 1682.5,1250.2 1685.0,1250.7 1687.5,1250.7 1692.5,1250.4 1695.0,1250.5 1697.5,1250.8 1700.0,1250.6 1702.5,1249.8 1705.0,1249.9 1710.0,1250.9 1715.0,1250.6 1717.5,1249.7 1720.0,1249.8 1722.5,1250.5 1727.5,1250.2 1730.0,1250.9 1732.5,1249.9 1737.5,1250.8 1740.0,1250.6 1742.5,1250.8 1745.0,1250.2 1750.0,1251.0 1752.5,1250.3 1757.5,1251.1 1760.0,1250.1 1762.5,1250.6 1765.0,1250.6 1767.5,1250.3 1770.0,1251.1 1772.5,1251.1 1775.0,1250.3 1777.5,1251.0 1785.0,1250.0 1787.5,1250.9 1790.5,1251.0 1792.5,1251.0 1795.0,1250.2 1800.0,1250.6 1802.5,1250.7 1805.0,1250.2 1812.5,1250.7 1815.0,1251.3 1817.5,1251.3 1820.0,1250.3 1821.0,1250.5" fill="none" stroke="#000" stroke-width="5.7" stroke-linejoin="round" stroke-linecap="butt"/>
<polyline points="517.0,1408.8 522.0,1409.1 524.5,1408.6 529.5,1408.6 537.0,1408.9 542.0,1409.4 552.0,1408.4 553.2,1407.8 554.2,1406.8 555.0,1405.7 555.8,1403.9 556.8,1399.7 557.8,1391.6 558.5,1397.9 559.2,1402.2 560.2,1405.6 561.2,1407.3 562.0,1408.0 563.2,1408.5 569.5,1409.0 572.0,1409.6 574.5,1409.0 579.5,1409.6 582.0,1409.0 589.5,1409.9 592.0,1409.3 598.0,1409.0 599.5,1409.0 602.0,1409.5 604.5,1409.8 609.5,1409.3 612.0,1409.7 617.5,1409.2 620.8,1408.2 621.5,1407.7 622.2,1406.9 623.0,1405.5 623.8,1403.6 625.0,1398.3 626.2,1403.6 627.0,1405.5 628.0,1407.2 629.0,1408.2 630.0,1408.7 634.0,1409.6 637.0,1410.0 642.0,1409.6 644.5,1410.0 647.0,1410.0 649.5,1409.5 654.5,1409.6 657.0,1409.5 659.5,1410.0 664.5,1409.9 667.0,1410.3 673.2,1409.5 676.0,1409.0 678.0,1407.9 679.5,1406.2 680.8,1407.8 682.0,1408.7 687.0,1410.0 689.5,1409.8 692.0,1410.1 694.5,1409.7 697.0,1409.7 699.5,1410.0 701.2,1409.9 703.2,1409.3 705.0,1408.0 706.2,1408.9 709.5,1410.1 714.5,1409.9 720.0,1410.2 722.2,1409.9 725.2,1408.7 726.2,1407.9 727.0,1406.7 727.8,1404.5 728.5,1401.1 729.7,1390.9 730.5,1398.3 731.5,1403.7 732.8,1407.2 733.5,1408.4 734.5,1409.4 735.8,1409.7 739.5,1409.8 744.5,1410.5 754.5,1410.3 764.5,1410.7 768.0,1409.2 769.0,1408.5 770.2,1406.8 771.0,1404.7 771.8,1401.3 772.5,1395.6 773.7,1378.7 774.8,1393.9 776.0,1402.8 776.8,1405.5 778.0,1408.1 779.2,1409.4 781.0,1410.3 784.5,1411.1 787.0,1410.7 789.5,1411.3 792.0,1411.3 794.5,1410.9 799.5,1411.2 802.0,1410.7 804.5,1410.8 806.5,1410.5 808.5,1409.7 810.8,1408.1 812.2,1406.0 813.4,1403.2 814.5,1406.0 815.5,1407.5 817.8,1409.5 819.5,1410.6 825.2,1410.1 827.0,1409.6 828.0,1408.7 829.0,1407.1 830.2,1402.9 831.5,1393.8 832.3,1383.1 833.2,1395.3 834.2,1402.4 835.0,1405.5 835.8,1407.4 836.5,1408.6 837.8,1409.8 839.5,1410.7 842.0,1410.4 844.5,1411.1 847.0,1411.1 852.2,1410.7 855.2,1409.8 856.5,1409.0 857.0,1408.4 857.8,1406.7 858.8,1402.9 859.8,1395.9 860.4,1388.5 861.0,1395.4 861.8,1401.2 862.5,1404.8 863.5,1407.5 864.5,1408.9 865.8,1409.8 869.5,1410.8 872.0,1410.9 874.5,1410.3 877.5,1410.2 879.2,1409.7 880.8,1408.3 881.8,1406.4 882.8,1403.0 883.8,1396.5 884.5,1388.3 885.2,1376.4 885.8,1386.1 886.5,1395.0 887.5,1402.0 888.5,1405.6 889.8,1407.8 890.5,1408.5 891.5,1409.0 893.0,1409.4 894.5,1409.5 897.2,1409.1 898.5,1408.5 899.5,1407.5 900.2,1406.0 900.8,1404.5 901.2,1402.1 901.8,1398.1 902.2,1390.7 903.0,1361.4 903.9,1280.2 904.8,1357.9 905.2,1383.1 905.8,1394.5 906.5,1402.2 907.0,1404.8 907.8,1407.0 908.8,1408.4 910.0,1409.4 911.5,1410.1 913.5,1410.6 917.0,1410.6 919.5,1410.8 922.0,1410.7 927.0,1411.0 929.5,1410.0 930.8,1409.7 931.5,1409.2 932.0,1408.6 932.8,1407.0 933.8,1403.3 934.5,1398.8 935.3,1391.2 936.5,1401.2 937.2,1404.6 938.0,1406.7 939.0,1408.3 940.5,1409.5 942.0,1410.2 944.5,1410.5 946.8,1410.2 947.8,1409.6 949.8,1407.6 951.0,1405.6 952.8,1408.5 953.8,1409.5 954.8,1410.1 956.2,1410.5 958.0,1410.6 959.5,1410.1 960.2,1409.5 961.5,1407.7 962.8,1404.0 963.8,1398.2 964.4,1392.1 965.0,1397.8 965.8,1402.5 966.5,1405.5 967.2,1407.4 968.2,1408.8 969.5,1409.7 971.0,1410.2 974.5,1410.8 977.5,1410.6 981.0,1410.1 982.8,1409.6 983.8,1409.1 984.8,1408.4 986.0,1406.8 987.0,1408.3 988.2,1409.1 990.5,1409.7 992.0,1409.6 993.2,1409.0 994.2,1408.1 995.2,1407.0 996.0,1405.7 997.0,1407.6 998.0,1408.7 999.2,1409.6 1001.0,1410.3 1003.0,1410.8 1007.0,1411.4 1009.5,1411.0 1012.0,1411.0 1014.5,1411.3 1018.8,1410.5 1020.0,1410.0 1021.2,1409.2 1022.5,1407.9 1024.0,1405.5 1025.0,1407.3 1026.0,1408.6 1027.2,1409.7 1028.5,1410.3 1029.8,1410.8 1034.5,1411.0 1037.0,1411.5 1042.0,1410.8 1044.5,1411.5 1049.5,1411.1 1052.0,1411.4 1053.8,1411.3 1057.0,1411.0 1062.0,1411.5 1064.5,1411.2 1067.0,1411.3 1069.5,1410.9 1072.0,1411.2 1074.5,1410.8 1079.5,1411.2 1082.0,1410.8 1087.0,1411.0 1088.5,1410.2 1090.2,1409.0 1091.0,1408.1 1091.8,1406.6 1093.0,1401.3 1094.0,1393.0 1095.2,1402.5 1096.0,1405.6 1097.0,1407.9 1098.0,1408.6 1099.0,1408.5 1100.8,1407.4 1102.0,1405.6 1103.2,1407.7 1104.8,1409.2 1106.2,1410.1 1109.5,1411.3 1114.5,1411.0 1117.0,1411.3 1119.5,1410.5 1124.5,1410.2 1126.2,1409.0 1128.0,1406.8 1129.2,1408.7 1130.2,1409.6 1134.5,1411.3 1139.5,1411.1 1142.0,1411.6 1144.5,1411.2 1146.5,1410.6 1148.5,1409.8 1149.8,1408.9 1151.0,1407.5 1152.8,1409.3 1154.2,1410.3 1155.2,1410.5 1157.0,1410.6 1160.8,1409.5 1162.0,1408.8 1163.0,1407.6 1163.8,1406.3 1165.0,1403.2 1166.5,1406.8 1167.5,1408.3 1168.5,1409.3 1170.5,1410.4 1174.5,1411.3 1177.0,1411.1 1179.5,1411.5 1183.0,1411.2 1189.5,1411.7 1194.5,1411.1 1199.5,1411.6 1202.0,1411.0 1209.5,1410.9 1212.0,1411.2 1214.5,1410.9 1218.0,1409.8 1219.2,1409.2 1220.0,1408.6 1221.2,1409.7 1222.5,1410.3 1227.0,1410.9 1229.5,1410.9 1232.0,1411.4 1237.0,1410.8 1242.0,1411.1 1244.5,1411.5 1252.0,1411.4 1254.5,1411.1 1259.5,1411.5 1263.2,1411.3 1264.5,1411.1 1266.5,1410.4 1268.0,1409.6 1269.0,1408.6 1270.0,1407.1 1270.8,1405.4 1272.0,1400.7 1273.2,1405.4 1274.5,1407.9 1275.2,1408.6 1276.0,1409.0 1276.8,1409.1 1277.8,1408.7 1278.8,1407.7 1279.5,1406.3 1280.5,1403.1 1281.2,1399.6 1282.8,1405.8 1283.5,1407.6 1284.5,1409.2 1285.2,1409.8 1286.2,1410.3 1289.0,1411.1 1292.0,1411.6 1294.5,1411.3 1299.5,1411.4 1305.8,1410.0 1307.0,1409.4 1307.5,1408.8 1308.5,1407.4 1309.3,1405.7 1310.8,1408.1 1311.8,1409.1 1313.0,1409.9 1314.8,1410.4 1319.5,1410.8 1322.0,1411.6 1324.5,1411.4 1327.0,1411.7 1329.5,1411.3 1332.0,1411.6 1333.0,1411.5 1336.0,1410.8 1337.0,1410.2 1338.0,1409.2 1340.2,1410.6 1342.0,1411.3 1347.0,1411.1 1349.5,1411.7 1352.0,1411.4 1354.5,1411.9 1359.5,1411.3 1367.0,1411.2 1372.0,1411.5 1374.5,1411.9 1379.5,1411.0 1389.5,1411.7 1392.0,1411.3 1394.5,1411.8 1397.0,1411.1 1404.5,1411.7 1407.0,1411.6 1409.5,1411.9 1414.5,1411.2 1419.5,1411.6 1424.5,1411.1 1427.0,1411.4 1429.5,1411.4 1432.0,1411.9 1434.5,1411.9 1439.5,1411.1 1449.5,1411.3 1452.0,1411.1 1459.5,1411.9 1462.0,1411.5 1464.5,1411.8 1467.0,1411.6 1469.5,1411.8 1472.0,1411.6 1474.5,1411.2 1477.0,1411.5 1479.5,1411.2 1482.0,1411.5 1484.5,1411.0 1489.5,1411.4 1492.0,1411.2 1497.0,1411.4 1499.5,1411.2 1502.0,1411.6 1504.5,1411.1 1509.5,1411.3 1512.0,1410.1 1513.0,1409.8 1514.5,1411.0 1515.2,1411.1 1517.0,1411.1 1519.5,1411.4 1522.0,1411.1 1524.5,1411.7 1527.0,1411.3 1532.0,1411.9 1534.5,1411.3 1537.0,1411.3 1539.5,1411.7 1542.0,1411.1 1545.8,1410.7 1547.0,1410.3 1548.0,1409.7 1550.2,1410.7 1552.0,1411.3 1554.5,1411.2 1557.0,1411.8 1562.0,1411.1 1564.5,1411.5 1567.0,1411.1 1569.5,1411.5 1572.0,1411.0 1579.5,1411.8 1582.5,1411.7 1584.5,1411.5 1588.0,1409.7 1590.0,1410.7 1592.0,1411.3 1597.0,1411.5 1599.5,1411.0 1602.0,1411.0 1607.0,1411.7 1614.5,1410.9 1617.5,1409.7 1619.0,1408.5 1619.5,1409.2 1620.8,1410.1 1624.5,1411.6 1627.0,1411.3 1629.5,1411.7 1632.0,1411.4 1639.5,1411.3 1642.0,1411.4 1644.5,1411.8 1652.0,1411.6 1659.5,1412.0 1662.0,1411.6 1664.5,1411.9 1669.0,1412.0 1674.5,1411.3 1677.0,1411.6 1679.5,1411.3 1684.5,1411.4 1688.0,1410.5 1690.0,1409.6 1692.0,1411.0 1694.5,1411.5 1697.0,1411.2 1704.5,1411.6 1707.0,1411.3 1709.5,1411.8 1712.0,1411.6 1714.5,1411.9 1717.0,1411.5 1722.0,1411.2 1724.5,1411.6 1727.0,1411.7 1729.5,1411.3 1732.0,1411.4 1734.5,1411.9 1737.0,1411.5 1739.5,1411.9 1742.0,1411.9 1744.5,1411.8 1747.0,1411.3 1749.5,1411.3 1752.0,1411.9 1757.0,1411.4 1762.0,1411.7 1767.0,1411.5 1769.5,1412.0 1772.0,1411.5 1777.0,1412.0 1782.0,1411.9 1784.5,1411.4 1786.0,1411.3 1792.0,1411.8 1797.0,1411.7 1799.5,1411.4 1804.5,1411.7 1809.5,1411.4 1812.0,1412.0 1814.5,1411.4 1821.0,1411.6" fill="none" stroke="#000" stroke-width="5.7" stroke-linejoin="round" stroke-linecap="butt"/>
<text transform="translate(493.43 599.00) scale(0.4099 0.3569)" font-size="100" class="s">♠</text>
<text transform="translate(537.63 604.00) scale(0.4099 0.3569)" font-size="100" class="s">♠</text>
<text transform="translate(576.43 605.00) scale(0.4099 0.3569)" font-size="100" class="s">♠</text>
<text transform="translate(610.16 593.90) scale(0.3309 0.3541)" font-size="100" class="s">♥</text>
<text transform="translate(708.03 586.40) scale(0.4099 0.3569)" font-size="100" class="s">♠</text>
<text transform="translate(751.63 580.80) scale(0.4099 0.3569)" font-size="100" class="s">♠</text>
<text transform="translate(809.77 554.90) scale(0.4648 0.4008)" font-size="100" class="s">♣</text>
<text transform="translate(835.57 539.40) scale(0.4648 0.4008)" font-size="100" class="s">♣</text>
<text transform="translate(870.16 526.00) scale(0.3717 0.3679)" font-size="100" class="s">♦</text>
<text transform="translate(915.30 563.41) scale(0.3951 0.3407)" font-size="100" class="s">♣</text>
<text transform="translate(946.10 570.30) scale(0.4509 0.3926)" font-size="100" class="s">♠</text>
<text transform="translate(970.13 599.60) scale(0.4099 0.3569)" font-size="100" class="s">♠</text>
<text transform="translate(1006.76 610.90) scale(0.3309 0.3541)" font-size="100" class="s">♥</text>
<text transform="translate(1080.06 590.40) scale(0.3717 0.3679)" font-size="100" class="s">♦</text>
<text transform="translate(1102.86 621.40) scale(0.3717 0.3679)" font-size="100" class="s">♦</text>
<text transform="translate(1124.63 620.50) scale(0.4099 0.3569)" font-size="100" class="s">♠</text>
<text transform="translate(1151.16 605.00) scale(0.3717 0.3679)" font-size="100" class="s">♦</text>
<text transform="translate(1252.66 601.00) scale(0.3717 0.3679)" font-size="100" class="s">♦</text>
<text transform="translate(1280.33 594.70) scale(0.4099 0.3569)" font-size="100" class="s">♠</text>
<text transform="translate(1319.63 608.00) scale(0.4099 0.3569)" font-size="100" class="s">♠</text>
<text transform="translate(1525.50 621.80) scale(0.4509 0.3926)" font-size="100" class="s">♠</text>
<text transform="translate(1564.50 625.70) scale(0.4509 0.3926)" font-size="100" class="s">♠</text>
<text transform="translate(1629.86 636.40) scale(0.3717 0.3679)" font-size="100" class="s">♦</text>
<text transform="translate(1651.36 632.40) scale(0.3717 0.3679)" font-size="100" class="s">♦</text>
<text transform="translate(1682.60 628.30) scale(0.4509 0.3926)" font-size="100" class="s">♠</text>
<text transform="translate(888.16 78.60) scale(0.3309 0.3541)" font-size="100" class="s">♥</text>
<text transform="translate(912.16 80.40) scale(0.3717 0.3679)" font-size="100" class="s">♦</text>
<text transform="translate(500.63 949.80) scale(0.4268 0.4523)" font-size="100">◊</text>
<text transform="translate(523.43 954.00) scale(0.4099 0.3569)" font-size="100" class="s">♠</text>
<text transform="translate(555.03 957.70) scale(0.4268 0.4523)" font-size="100">◊</text>
<text transform="translate(572.63 964.00) scale(0.4099 0.3569)" font-size="100" class="s">♠</text>
<text transform="translate(606.13 971.90) scale(0.4268 0.4523)" font-size="100">◊</text>
<text transform="translate(616.73 936.00) scale(0.4099 0.3569)" font-size="100" class="s">♠</text>
<text transform="translate(725.83 950.90) scale(0.4268 0.4523)" font-size="100">◊</text>
<text transform="translate(760.03 938.00) scale(0.4099 0.3569)" font-size="100" class="s">♠</text>
<text transform="translate(806.47 910.60) scale(0.4648 0.4008)" font-size="100" class="s">♣</text>
<text transform="translate(839.57 903.20) scale(0.4648 0.4008)" font-size="100" class="s">♣</text>
<text transform="translate(868.36 908.00) scale(0.3717 0.3679)" font-size="100" class="s">♦</text>
<text transform="translate(911.57 934.80) scale(0.4648 0.4008)" font-size="100" class="s">♣</text>
<text transform="translate(944.36 924.90) scale(0.3717 0.3679)" font-size="100" class="s">♦</text>
<text transform="translate(940.33 954.10) scale(0.4268 0.4523)" font-size="100">◊</text>
<text transform="translate(972.76 942.20) scale(0.3309 0.3541)" font-size="100" class="s">♥</text>
<text transform="translate(1078.36 930.40) scale(0.3717 0.3679)" font-size="100" class="s">♦</text>
<text transform="translate(1098.26 958.40) scale(0.3717 0.3679)" font-size="100" class="s">♦</text>
<text transform="translate(1132.83 948.00) scale(0.4099 0.3569)" font-size="100" class="s">♠</text>
<text transform="translate(1170.96 974.80) scale(0.3717 0.3679)" font-size="100" class="s">♦</text>
<text transform="translate(1260.96 946.00) scale(0.3717 0.3679)" font-size="100" class="s">♦</text>
<text transform="translate(1279.80 951.90) scale(0.4509 0.3926)" font-size="100" class="s">♠</text>
<text transform="translate(1313.80 965.70) scale(0.4509 0.3926)" font-size="100" class="s">♠</text>
<text transform="translate(1508.30 960.80) scale(0.4509 0.3926)" font-size="100" class="s">♠</text>
<text transform="translate(1563.43 958.40) scale(0.4268 0.4523)" font-size="100">◊</text>
<text transform="translate(1584.36 962.40) scale(0.3717 0.3679)" font-size="100" class="s">♦</text>
<text transform="translate(1629.43 975.60) scale(0.4268 0.4523)" font-size="100">◊</text>
<text transform="translate(1647.20 970.70) scale(0.4509 0.3926)" font-size="100" class="s">♠</text>
<text transform="translate(889.96 669.60) scale(0.3309 0.3541)" font-size="100" class="s">♥</text>
<text transform="translate(910.86 682.80) scale(0.3717 0.3679)" font-size="100" class="s">♦</text>
<text transform="translate(506.83 1219.20) scale(0.4268 0.4523)" font-size="100">◊</text>
<text transform="translate(551.43 1217.60) scale(0.4268 0.4523)" font-size="100">◊</text>
<text transform="translate(589.43 1227.50) scale(0.4268 0.4523)" font-size="100">◊</text>
<text transform="translate(618.33 1223.20) scale(0.4268 0.4523)" font-size="100">◊</text>
<text transform="translate(724.83 1185.20) scale(0.4268 0.4523)" font-size="100">◊</text>
<text transform="translate(768.83 1200.10) scale(0.4268 0.4523)" font-size="100">◊</text>
<text transform="translate(812.47 1205.40) scale(0.4648 0.4008)" font-size="100" class="s">♣</text>
<text transform="translate(843.87 1196.50) scale(0.4648 0.4008)" font-size="100" class="s">♣</text>
<text transform="translate(875.16 1223.00) scale(0.3717 0.3679)" font-size="100" class="s">♦</text>
<text transform="translate(919.07 1202.60) scale(0.4648 0.4008)" font-size="100" class="s">♣</text>
<text transform="translate(944.43 1230.40) scale(0.4268 0.4523)" font-size="100">◊</text>
<text transform="translate(958.76 1209.30) scale(0.3309 0.3541)" font-size="100" class="s">♥</text>
<text transform="translate(985.23 1217.60) scale(0.4268 0.4523)" font-size="100">◊</text>
<text transform="translate(1078.36 1207.40) scale(0.3717 0.3679)" font-size="100" class="s">♦</text>
<text transform="translate(1096.56 1238.90) scale(0.3717 0.3679)" font-size="100" class="s">♦</text>
<text transform="translate(1128.13 1243.10) scale(0.4268 0.4523)" font-size="100">◊</text>
<text transform="translate(1151.76 1212.40) scale(0.3717 0.3679)" font-size="100" class="s">♦</text>
<text transform="translate(1245.36 1212.40) scale(0.3717 0.3679)" font-size="100" class="s">♦</text>
<text transform="translate(1274.63 1215.60) scale(0.4268 0.4523)" font-size="100">◊</text>
<text transform="translate(1306.63 1226.50) scale(0.4268 0.4523)" font-size="100">◊</text>
<text transform="translate(1503.03 1216.60) scale(0.4268 0.4523)" font-size="100">◊</text>
<text transform="translate(1552.63 1234.80) scale(0.4268 0.4523)" font-size="100">◊</text>
<text transform="translate(1623.66 1233.90) scale(0.3717 0.3679)" font-size="100" class="s">♦</text>
<text transform="translate(1650.06 1232.30) scale(0.3717 0.3679)" font-size="100" class="s">♦</text>
<text transform="translate(1688.93 1255.30) scale(0.4268 0.4523)" font-size="100">◊</text>
<text transform="translate(887.96 1013.70) scale(0.3717 0.3679)" font-size="100" class="s">♦</text>
<text transform="translate(918.96 1035.80) scale(0.3309 0.3541)" font-size="100" class="s">♥</text>
<text transform="translate(499.67 1378.10) scale(0.4648 0.4008)" font-size="100" class="s">♣</text>
<text transform="translate(537.67 1378.10) scale(0.4648 0.4008)" font-size="100" class="s">♣</text>
<text transform="translate(607.77 1389.10) scale(0.4648 0.4008)" font-size="100" class="s">♣</text>
<text transform="translate(708.87 1378.60) scale(0.4648 0.4008)" font-size="100" class="s">♣</text>
<text transform="translate(756.17 1359.40) scale(0.4648 0.4008)" font-size="100" class="s">♣</text>
<text transform="translate(814.77 1378.60) scale(0.4648 0.4008)" font-size="100" class="s">♣</text>
<text transform="translate(840.17 1353.10) scale(0.4648 0.4008)" font-size="100" class="s">♣</text>
<text transform="translate(868.56 1362.40) scale(0.3717 0.3679)" font-size="100" class="s">♦</text>
<text transform="translate(914.47 1375.30) scale(0.4648 0.4008)" font-size="100" class="s">♣</text>
<text transform="translate(951.66 1377.90) scale(0.3309 0.3541)" font-size="100" class="s">♥</text>
<text transform="translate(976.67 1393.50) scale(0.4648 0.4008)" font-size="100" class="s">♣</text>
<text transform="translate(1076.76 1392.30) scale(0.3717 0.3679)" font-size="100" class="s">♦</text>
<text transform="translate(1100.86 1408.80) scale(0.3717 0.3679)" font-size="100" class="s">♦</text>
<text transform="translate(1146.86 1396.30) scale(0.3717 0.3679)" font-size="100" class="s">♦</text>
<text transform="translate(1250.36 1397.30) scale(0.3717 0.3679)" font-size="100" class="s">♦</text>
<text transform="translate(1271.86 1400.60) scale(0.3717 0.3679)" font-size="100" class="s">♦</text>
<text transform="translate(1298.07 1402.60) scale(0.4648 0.4008)" font-size="100" class="s">♣</text>
<text transform="translate(1492.77 1393.50) scale(0.4648 0.4008)" font-size="100" class="s">♣</text>
<text transform="translate(1550.67 1394.50) scale(0.4648 0.4008)" font-size="100" class="s">♣</text>
<text transform="translate(1618.66 1402.20) scale(0.3717 0.3679)" font-size="100" class="s">♦</text>
<text transform="translate(1641.86 1404.50) scale(0.3717 0.3679)" font-size="100" class="s">♦</text>
<text transform="translate(1696.77 1399.10) scale(0.4648 0.4008)" font-size="100" class="s">♣</text>
<text transform="translate(891.56 1279.20) scale(0.3717 0.3679)" font-size="100" class="s">♦</text>
<text transform="translate(905.36 1302.50) scale(0.3309 0.3541)" font-size="100" class="s">♥</text>
<text transform="translate(977.96 114.15) scale(0.6238 0.5532)" font-size="100" class="s">♣</text>
<text x="1033.3" y="113.5" font-size="44">Na</text>
<text x="1091.8" y="129.3" font-size="26">92.71</text>
<text x="1172.5" y="113.5" font-size="44">(</text>
<text x="1200.1" y="113.5" font-size="44">Si</text>
<text x="1240.6" y="129.3" font-size="26">96.96</text>
<text x="1310.5" y="113.5" font-size="44">Al</text>
<text x="1350.8" y="129.3" font-size="26">95.04</text>
<text x="1419.9" y="113.5" font-size="44">O</text>
<text x="1456.1" y="129.3" font-size="26">384</text>
<text x="1515.0" y="113.5" font-size="44">)</text>
<text x="1540.3" y="113.5" font-size="44">(</text>
<text x="1567.4" y="113.5" font-size="44">H</text>
<text x="1600.4" y="129.3" font-size="26">2</text>
<text x="1615.8" y="113.5" font-size="44">O</text>
<text x="1665.5" y="113.5" font-size="44">)</text>
<text x="1677.4" y="129.3" font-size="26">254.64</text>
<text transform="translate(1805.95 114.55) scale(0.5951 0.5724)" font-size="100" class="s">♦</text>
<text x="1860.7" y="113.5" font-size="44">CaMg</text>
<text x="1996.5" y="113.5" font-size="44">(</text>
<text x="2024.0" y="113.5" font-size="44">CO</text>
<text x="2094.0" y="129.3" font-size="26">3</text>
<text x="2118.5" y="113.5" font-size="44">)</text>
<text x="2131.4" y="129.3" font-size="26">2</text>
<text transform="translate(982.24 211.85) scale(0.5186 0.5614)" font-size="100" class="s">♥</text>
<text x="1034.1" y="210.5" font-size="44">Ca</text>
<text x="1093.2" y="226.3" font-size="26">4</text>
<text x="1108.8" y="210.5" font-size="44">Al</text>
<text x="1148.9" y="226.3" font-size="26">8</text>
<text x="1165.2" y="210.5" font-size="44">Si</text>
<text x="1206.9" y="226.3" font-size="26">16</text>
<text x="1236.2" y="210.5" font-size="44">O</text>
<text x="1272.4" y="226.3" font-size="26">48</text>
<text x="1313.6" y="210.5" font-size="44">·16H</text>
<text x="1410.7" y="226.3" font-size="26">2</text>
<text x="1426.8" y="210.5" font-size="44">O</text>
<text transform="translate(1622.09 211.00) scale(0.6628 0.7282)" font-size="100">◊</text>
<text x="1655.6" y="210.5" font-size="44">Zn</text>
<text x="1708.8" y="226.3" font-size="26">5</text>
<text x="1723.4" y="210.5" font-size="44">K</text>
<text x="1755.5" y="226.3" font-size="26">2</text>
<text x="1771.6" y="210.5" font-size="44">Al</text>
<text x="1813.8" y="226.3" font-size="26">12</text>
<text x="1843.1" y="210.5" font-size="44">Si</text>
<text x="1884.9" y="226.3" font-size="26">12</text>
<text x="1914.6" y="210.5" font-size="44">O</text>
<text x="1951.2" y="226.3" font-size="26">48</text>
<text x="1991.5" y="210.5" font-size="44">·3.5H</text>
<text x="2101.3" y="226.3" font-size="26">2</text>
<text x="2116.9" y="210.5" font-size="44">O</text>
<text transform="translate(980.95 314.20) scale(0.6373 0.5765)" font-size="100" class="s">♠</text>
<text x="1037.8" y="313.7" font-size="44">Ag</text>
<text x="1094.0" y="328.7" font-size="26">12</text>
<text x="1123.8" y="313.7" font-size="44">Si</text>
<text x="1166.0" y="328.7" font-size="26">12</text>
<text x="1196.7" y="313.7" font-size="44">Al</text>
<text x="1237.3" y="328.7" font-size="26">12</text>
<text x="1267.8" y="313.7" font-size="44">O</text>
<text x="1304.2" y="328.7" font-size="26">48</text>
<text x="1832.5" y="668.6" font-size="46"><tspan>Ag</tspan><tspan dy="-21" font-size="27">+</tspan><tspan dy="21">-permutite</tspan></text>
<text x="1774.7" y="1048.6" font-size="46"><tspan>Ag</tspan><tspan dy="-21" font-size="27">+</tspan><tspan dy="21">/Zn</tspan><tspan dy="-21" font-size="27">2+</tspan><tspan dy="21">-permutite</tspan></text>
<text x="1832.6" y="1274.2" font-size="46"><tspan>Zn</tspan><tspan dy="-21" font-size="27">2+</tspan><tspan dy="21">-permutite</tspan></text>
<text x="1832.4" y="1428.4" font-size="46">Permutite</text>
</g>
<g id="panelC">
<text x="7.5" y="2018" font-size="86" letter-spacing="1">(C)</text>
<rect x="333.0" y="2061.0" width="6" height="1424.6999999999998"/><rect x="335.5" y="2058.0" width="1912.5" height="6"/><rect x="2244.0" y="2061.0" width="7" height="1424.8999999999999"/><rect x="335.5" y="3482.7" width="1912.5" height="6"/>
<text transform="translate(305.3 3501.6) scale(1 1.045)" font-size="57" text-anchor="end">0</text>
<rect x="336.0" y="3245.2" width="27.5" height="6"/>
<text transform="translate(305.3 3264.2) scale(1 1.045)" font-size="57" text-anchor="end">1</text>
<rect x="336.0" y="3007.8" width="27.5" height="6"/>
<text transform="translate(305.3 3026.7) scale(1 1.045)" font-size="57" text-anchor="end">2</text>
<rect x="336.0" y="2770.3" width="27.5" height="6"/>
<text transform="translate(305.3 2789.2) scale(1 1.045)" font-size="57" text-anchor="end">3</text>
<rect x="336.0" y="2532.9" width="27.5" height="6"/>
<text transform="translate(305.3 2551.8) scale(1 1.045)" font-size="57" text-anchor="end">4</text>
<rect x="336.0" y="2295.4" width="27.5" height="6"/>
<text transform="translate(305.3 2314.3) scale(1 1.045)" font-size="57" text-anchor="end">5</text>
<text transform="translate(305.3 2076.9) scale(1 1.045)" font-size="57" text-anchor="end">6</text>
<text transform="translate(336.0 3562.3) scale(1 1.045)" font-size="57.6" text-anchor="middle">0.0</text>
<rect x="524.1" y="3470.7" width="6" height="15"/>
<rect x="715.3" y="3457.7" width="6" height="28"/>
<text transform="translate(718.3 3562.3) scale(1 1.045)" font-size="57.6" text-anchor="middle">0.2</text>
<rect x="906.4" y="3470.7" width="6" height="15"/>
<rect x="1097.6" y="3457.7" width="6" height="28"/>
<text transform="translate(1100.6 3562.3) scale(1 1.045)" font-size="57.6" text-anchor="middle">0.4</text>
<rect x="1288.8" y="3470.7" width="6" height="15"/>
<rect x="1479.9" y="3457.7" width="6" height="28"/>
<text transform="translate(1482.9 3562.3) scale(1 1.045)" font-size="57.6" text-anchor="middle">0.6</text>
<rect x="1671.0" y="3470.7" width="6" height="15"/>
<rect x="1862.2" y="3457.7" width="6" height="28"/>
<text transform="translate(1865.2 3562.3) scale(1 1.045)" font-size="57.6" text-anchor="middle">0.8</text>
<rect x="2053.4" y="3470.7" width="6" height="15"/>
<text transform="translate(2247.5 3562.3) scale(1 1.045)" font-size="57.6" text-anchor="middle">1.0</text>
<text x="900" y="3679" font-size="73.55">Relative pressure(P/P<tspan font-size="44" dy="38">0</tspan><tspan dy="-38">)</tspan></text>
<text transform="translate(217.1 3248.5) rotate(-90)" font-size="73.5">Vol Adsorbed(cm<tspan font-size="44.5" dy="-36.4">3</tspan><tspan dy="36.4">/g STP)</tspan></text>
<clipPath id="clipC"><rect x="336.0" y="2061.0" width="1911.5" height="1424.6999999999998"/></clipPath>
<g clip-path="url(#clipC)">
<polyline points="375.5,3384.9 434.5,3357.5 437.0,3353.5 452.0,3347.9 484.2,3336.8 549.9,3317.8 614.3,3300.7 679.5,3287.2 744.4,3272.9 810.1,3259.0 825.4,3251.1 840.6,3244.2 874.4,3235.8 939.3,3224.3 1004.3,3212.7 1069.5,3200.8 1134.4,3185.9 1198.0,3173.3 1272.2,3155.8 1345.5,3131.3 1421.0,3109.7 1494.8,3092.3 1568.9,3075.2 1643.0,3055.3 1719.0,3033.5 1756.5,3018.7 1831.5,2989.5 1905.6,2958.1 1980.6,2911.8 2056.5,2842.3 2135.6,2698.8 2234.3,2250.4" fill="none" stroke="#000" stroke-width="2"/>
<polyline points="566.6,3398.8 640.2,3365.5 715.2,3333.1 788.3,3307.6 863.8,3280.7 937.9,3259.0 1012.2,3233.0 1124.0,3201.8 1198.8,3176.3 1263.8,3161.6 1328.7,3148.2 1393.6,3135.4 1459.2,3123.8 1524.0,3110.8 1588.8,3097.0 1654.0,3086.5 1719.0,3068.2 1783.8,3047.4 1848.6,3024.3 1913.4,2997.9 1978.2,2964.1 2043.5,2915.5 2108.3,2841.4 2173.1,2697.9 2234.3,2250.4" fill="none" stroke="#000" stroke-width="2"/>
<g fill="#fff" stroke="#000" stroke-width="4" stroke-linejoin="round">
<path d="M375.5 3363.0L394.4 3395.8H356.6Z"/>
<path d="M434.5 3335.6L453.4 3368.4H415.6Z"/>
<path d="M437.0 3331.6L455.9 3364.4H418.1Z"/>
<path d="M452.0 3326.0L470.9 3358.8H433.1Z"/>
<path d="M484.2 3314.9L503.1 3347.7H465.2Z"/>
<path d="M549.9 3295.9L568.9 3328.7H530.9Z"/>
<path d="M614.3 3278.8L633.2 3311.6H595.3Z"/>
<path d="M679.5 3265.3L698.5 3298.1H660.5Z"/>
<path d="M744.4 3251.0L763.4 3283.8H725.4Z"/>
<path d="M810.1 3237.1L829.1 3269.9H791.1Z"/>
<path d="M825.4 3229.2L844.4 3262.0H806.4Z"/>
<path d="M840.6 3222.3L859.6 3255.1H821.6Z"/>
<path d="M874.4 3213.9L893.4 3246.7H855.4Z"/>
<path d="M939.3 3202.4L958.2 3235.2H920.3Z"/>
<path d="M1004.3 3190.8L1023.2 3223.6H985.3Z"/>
<path d="M1069.5 3178.9L1088.5 3211.7H1050.5Z"/>
<path d="M1134.4 3164.0L1153.4 3196.8H1115.5Z"/>
<path d="M1198.0 3151.4L1217.0 3184.2H1179.0Z"/>
<path d="M566.6 3376.9L585.6 3409.7H547.6Z"/>
<path d="M640.2 3343.6L659.2 3376.4H621.2Z"/>
<path d="M715.2 3311.2L734.2 3344.0H696.2Z"/>
<path d="M788.3 3285.7L807.2 3318.5H769.3Z"/>
<path d="M863.8 3258.8L882.8 3291.6H844.8Z"/>
<path d="M937.9 3237.1L956.9 3269.9H918.9Z"/>
<path d="M1012.2 3211.1L1031.2 3243.9H993.2Z"/>
<path d="M1124.0 3179.9L1143.0 3212.7H1105.0Z"/>
<path d="M1198.8 3154.4L1217.8 3187.2H1179.8Z"/>
<path d="M1263.8 3139.7L1282.8 3172.5H1244.8Z"/>
<path d="M1328.7 3126.3L1347.7 3159.1H1309.8Z"/>
<path d="M1393.6 3113.5L1412.5 3146.3H1374.6Z"/>
<path d="M1459.2 3101.9L1478.2 3134.7H1440.2Z"/>
<path d="M1524.0 3088.9L1543.0 3121.7H1505.0Z"/>
<path d="M1588.8 3075.1L1607.8 3107.9H1569.8Z"/>
<path d="M1654.0 3064.6L1673.0 3097.4H1635.0Z"/>
<path d="M1719.0 3046.3L1738.0 3079.1H1700.0Z"/>
<path d="M1783.8 3025.5L1802.8 3058.3H1764.8Z"/>
<path d="M1848.6 3002.4L1867.5 3035.2H1829.6Z"/>
<path d="M1913.4 2976.0L1932.4 3008.8H1894.5Z"/>
<path d="M1978.2 2942.2L1997.2 2975.0H1959.2Z"/>
<path d="M2043.5 2893.6L2062.4 2926.4H2024.5Z"/>
<path d="M2108.3 2819.5L2127.2 2852.3H2089.4Z"/>
<path d="M2173.1 2676.0L2192.0 2708.8H2154.2Z"/>
<path d="M1272.2 3133.9L1291.2 3166.7H1253.2Z"/>
<path d="M1345.5 3109.4L1364.5 3142.2H1326.5Z"/>
<path d="M1421.0 3087.8L1440.0 3120.6H1402.0Z"/>
<path d="M1494.8 3070.4L1513.8 3103.2H1475.8Z"/>
<path d="M1568.9 3053.3L1587.9 3086.1H1550.0Z"/>
<path d="M1643.0 3033.4L1662.0 3066.2H1624.0Z"/>
<path d="M1719.0 3011.6L1738.0 3044.4H1700.0Z"/>
<path d="M1756.5 2996.8L1775.5 3029.6H1737.5Z"/>
<path d="M1831.5 2967.6L1850.5 3000.4H1812.5Z"/>
<path d="M1905.6 2936.2L1924.5 2969.0H1886.6Z"/>
<path d="M1980.6 2889.9L1999.5 2922.7H1961.6Z"/>
<path d="M2056.5 2820.4L2075.4 2853.2H2037.5Z"/>
<path d="M2135.6 2676.9L2154.5 2709.7H2116.7Z"/>
<path d="M2234.3 2228.5L2253.2 2261.3H2215.4Z"/>
</g>
</g>
</g>
</g>
<text x="1916.5" y="2837.2" font-size="73">De.</text>
<text x="2097.5" y="2932" font-size="73">Ad.</text>
<text x="1645" y="2334" font-size="47.0">BET Surface Area:</text>
<text x="1645" y="2397.5" font-size="47.0"><tspan font-weight="bold">3.4520</tspan> m<tspan font-size="27.5" dy="-23.3">2</tspan><tspan dy="23.3">/g</tspan></text>
<text x="1645" y="2455.7" font-size="47.0">BJH Adsorption cumulation</text>
<text x="1645" y="2512.8" font-size="47.0">Pore Volume of Pores:</text>
<text x="1645" y="2577.4" font-size="47.0"><tspan font-weight="bold">0.007623</tspan> cm<tspan font-size="27.5" dy="-23.3">3</tspan><tspan dy="23.3">/g</tspan></text>
<path d="M631.0 2123.0H1629.0V2953.4H631.0Z" fill="#fff" stroke="#000" stroke-width="3.7"/>
<text transform="translate(617.6 2961.9) scale(1 1.08)" font-size="34.3" text-anchor="end">0.000</text>
<rect x="631.0" y="2882.5" width="7.5" height="3.4"/>
<rect x="631.0" y="2813.3" width="14" height="3.4"/>
<text transform="translate(617.6 2823.5) scale(1 1.08)" font-size="34.3" text-anchor="end">0.002</text>
<rect x="631.0" y="2744.1" width="7.5" height="3.4"/>
<rect x="631.0" y="2674.9" width="14" height="3.4"/>
<text transform="translate(617.6 2685.1) scale(1 1.08)" font-size="34.3" text-anchor="end">0.004</text>
<rect x="631.0" y="2605.7" width="7.5" height="3.4"/>
<rect x="631.0" y="2536.5" width="14" height="3.4"/>
<text transform="translate(617.6 2546.7) scale(1 1.08)" font-size="34.3" text-anchor="end">0.006</text>
<rect x="631.0" y="2467.3" width="7.5" height="3.4"/>
<rect x="631.0" y="2398.1" width="14" height="3.4"/>
<text transform="translate(617.6 2408.3) scale(1 1.08)" font-size="34.3" text-anchor="end">0.008</text>
<rect x="631.0" y="2328.9" width="7.5" height="3.4"/>
<rect x="631.0" y="2259.7" width="14" height="3.4"/>
<text transform="translate(617.6 2269.9) scale(1 1.08)" font-size="34.3" text-anchor="end">0.010</text>
<rect x="631.0" y="2190.5" width="7.5" height="3.4"/>
<text transform="translate(617.6 2131.5) scale(1 1.08)" font-size="34.3" text-anchor="end">0.012</text>
<rect x="848.0" y="2945.9" width="3.4" height="7.5"/>
<rect x="960.2" y="2945.9" width="3.4" height="7.5"/>
<rect x="1036.2" y="2945.9" width="3.4" height="7.5"/>
<rect x="1093.8" y="2945.9" width="3.4" height="7.5"/>
<rect x="1140.1" y="2945.9" width="3.4" height="7.5"/>
<rect x="1178.9" y="2939.4" width="3.4" height="14"/>
<rect x="1397.6" y="2945.9" width="3.4" height="7.5"/>
<rect x="1509.8" y="2945.9" width="3.4" height="7.5"/>
<rect x="1585.8" y="2945.9" width="3.4" height="7.5"/>
<text transform="translate(631.0 2994.5) scale(1 1.08)" font-size="34.3" text-anchor="middle">1</text>
<text transform="translate(1182.1 2994.5) scale(1 1.08)" font-size="34.3" text-anchor="middle">10</text>
<text x="883.5" y="3045.8" font-size="39.5" letter-spacing="0.3" font-weight="bold">Pore diametre(nm)</text>
<text transform="translate(496.3 2845.6) rotate(-90)" font-size="39.5" font-weight="bold" letter-spacing="0.15">dv/dD Pore Volum(cm<tspan font-size="25" dy="-19.8">3</tspan><tspan dy="19.8">/g·nm)</tspan></text>
<path d="M784.8 2738.9L808.0 2265.2M808.3 2265.2L809.0 2359.5M809.3 2373.5L819.3 2652.4M820.3 2666.4L829.5 2751.2M835.2 2763.1L844.6 2772.3M854.5 2772.2L863.4 2763.2M870.1 2751.4L883.5 2699.5M886.9 2699.5L900.0 2754.5M908.5 2762.2L916.5 2763.2M928.1 2758.9L939.0 2746.7M947.5 2747.4L958.5 2764.6M965.4 2776.8L981.8 2810.2M990.8 2812.7L1004.4 2804.0M1016.5 2797.0L1027.9 2791.1M1036.9 2794.3L1055.9 2836.7M1063.0 2837.6L1084.6 2810.1M1094.2 2800.0L1113.4 2783.0M1125.7 2778.6L1146.6 2779.0M1160.4 2780.8L1185.9 2786.7M1199.7 2787.9L1231.1 2786.0M1244.3 2782.3L1287.1 2759.5M1300.0 2754.1L1360.0 2735.7M1373.1 2730.7L1457.5 2692.0M1470.6 2687.2L1592.5 2652.1" fill="none" stroke="#000" stroke-width="1.2"/>
<rect x="766.9" y="2747.7" width="9" height="9"/>
<rect x="780.0" y="2741.4" width="9" height="9"/>
<rect x="803.8" y="2253.7" width="9" height="9"/>
<rect x="804.5" y="2362.0" width="9" height="9"/>
<rect x="815.1" y="2654.9" width="9" height="9"/>
<rect x="825.7" y="2753.7" width="9" height="9"/>
<rect x="845.1" y="2772.7" width="9" height="9"/>
<rect x="863.8" y="2753.7" width="9" height="9"/>
<rect x="880.8" y="2688.2" width="9" height="9"/>
<rect x="897.1" y="2756.8" width="9" height="9"/>
<rect x="918.9" y="2759.6" width="9" height="9"/>
<rect x="939.2" y="2737.0" width="9" height="9"/>
<rect x="957.8" y="2766.0" width="9" height="9"/>
<rect x="980.4" y="2812.0" width="9" height="9"/>
<rect x="1005.8" y="2795.7" width="9" height="9"/>
<rect x="1029.6" y="2783.4" width="9" height="9"/>
<rect x="1054.2" y="2838.6" width="9" height="9"/>
<rect x="1084.4" y="2800.1" width="9" height="9"/>
<rect x="1114.2" y="2773.9" width="9" height="9"/>
<rect x="1149.1" y="2774.7" width="9" height="9"/>
<rect x="1188.2" y="2783.8" width="9" height="9"/>
<rect x="1233.6" y="2781.1" width="9" height="9"/>
<rect x="1288.8" y="2751.7" width="9" height="9"/>
<rect x="1362.2" y="2729.1" width="9" height="9"/>
<rect x="1459.4" y="2684.6" width="9" height="9"/>
<rect x="1594.7" y="2645.7" width="9" height="9"/>
<text x="829.5" y="2310.5" font-size="59.6">2.1 nm</text>
<text x="862.3" y="2677.4" font-size="59.6">2.2 nm</text>
</g>
</svg>
</body></html>
